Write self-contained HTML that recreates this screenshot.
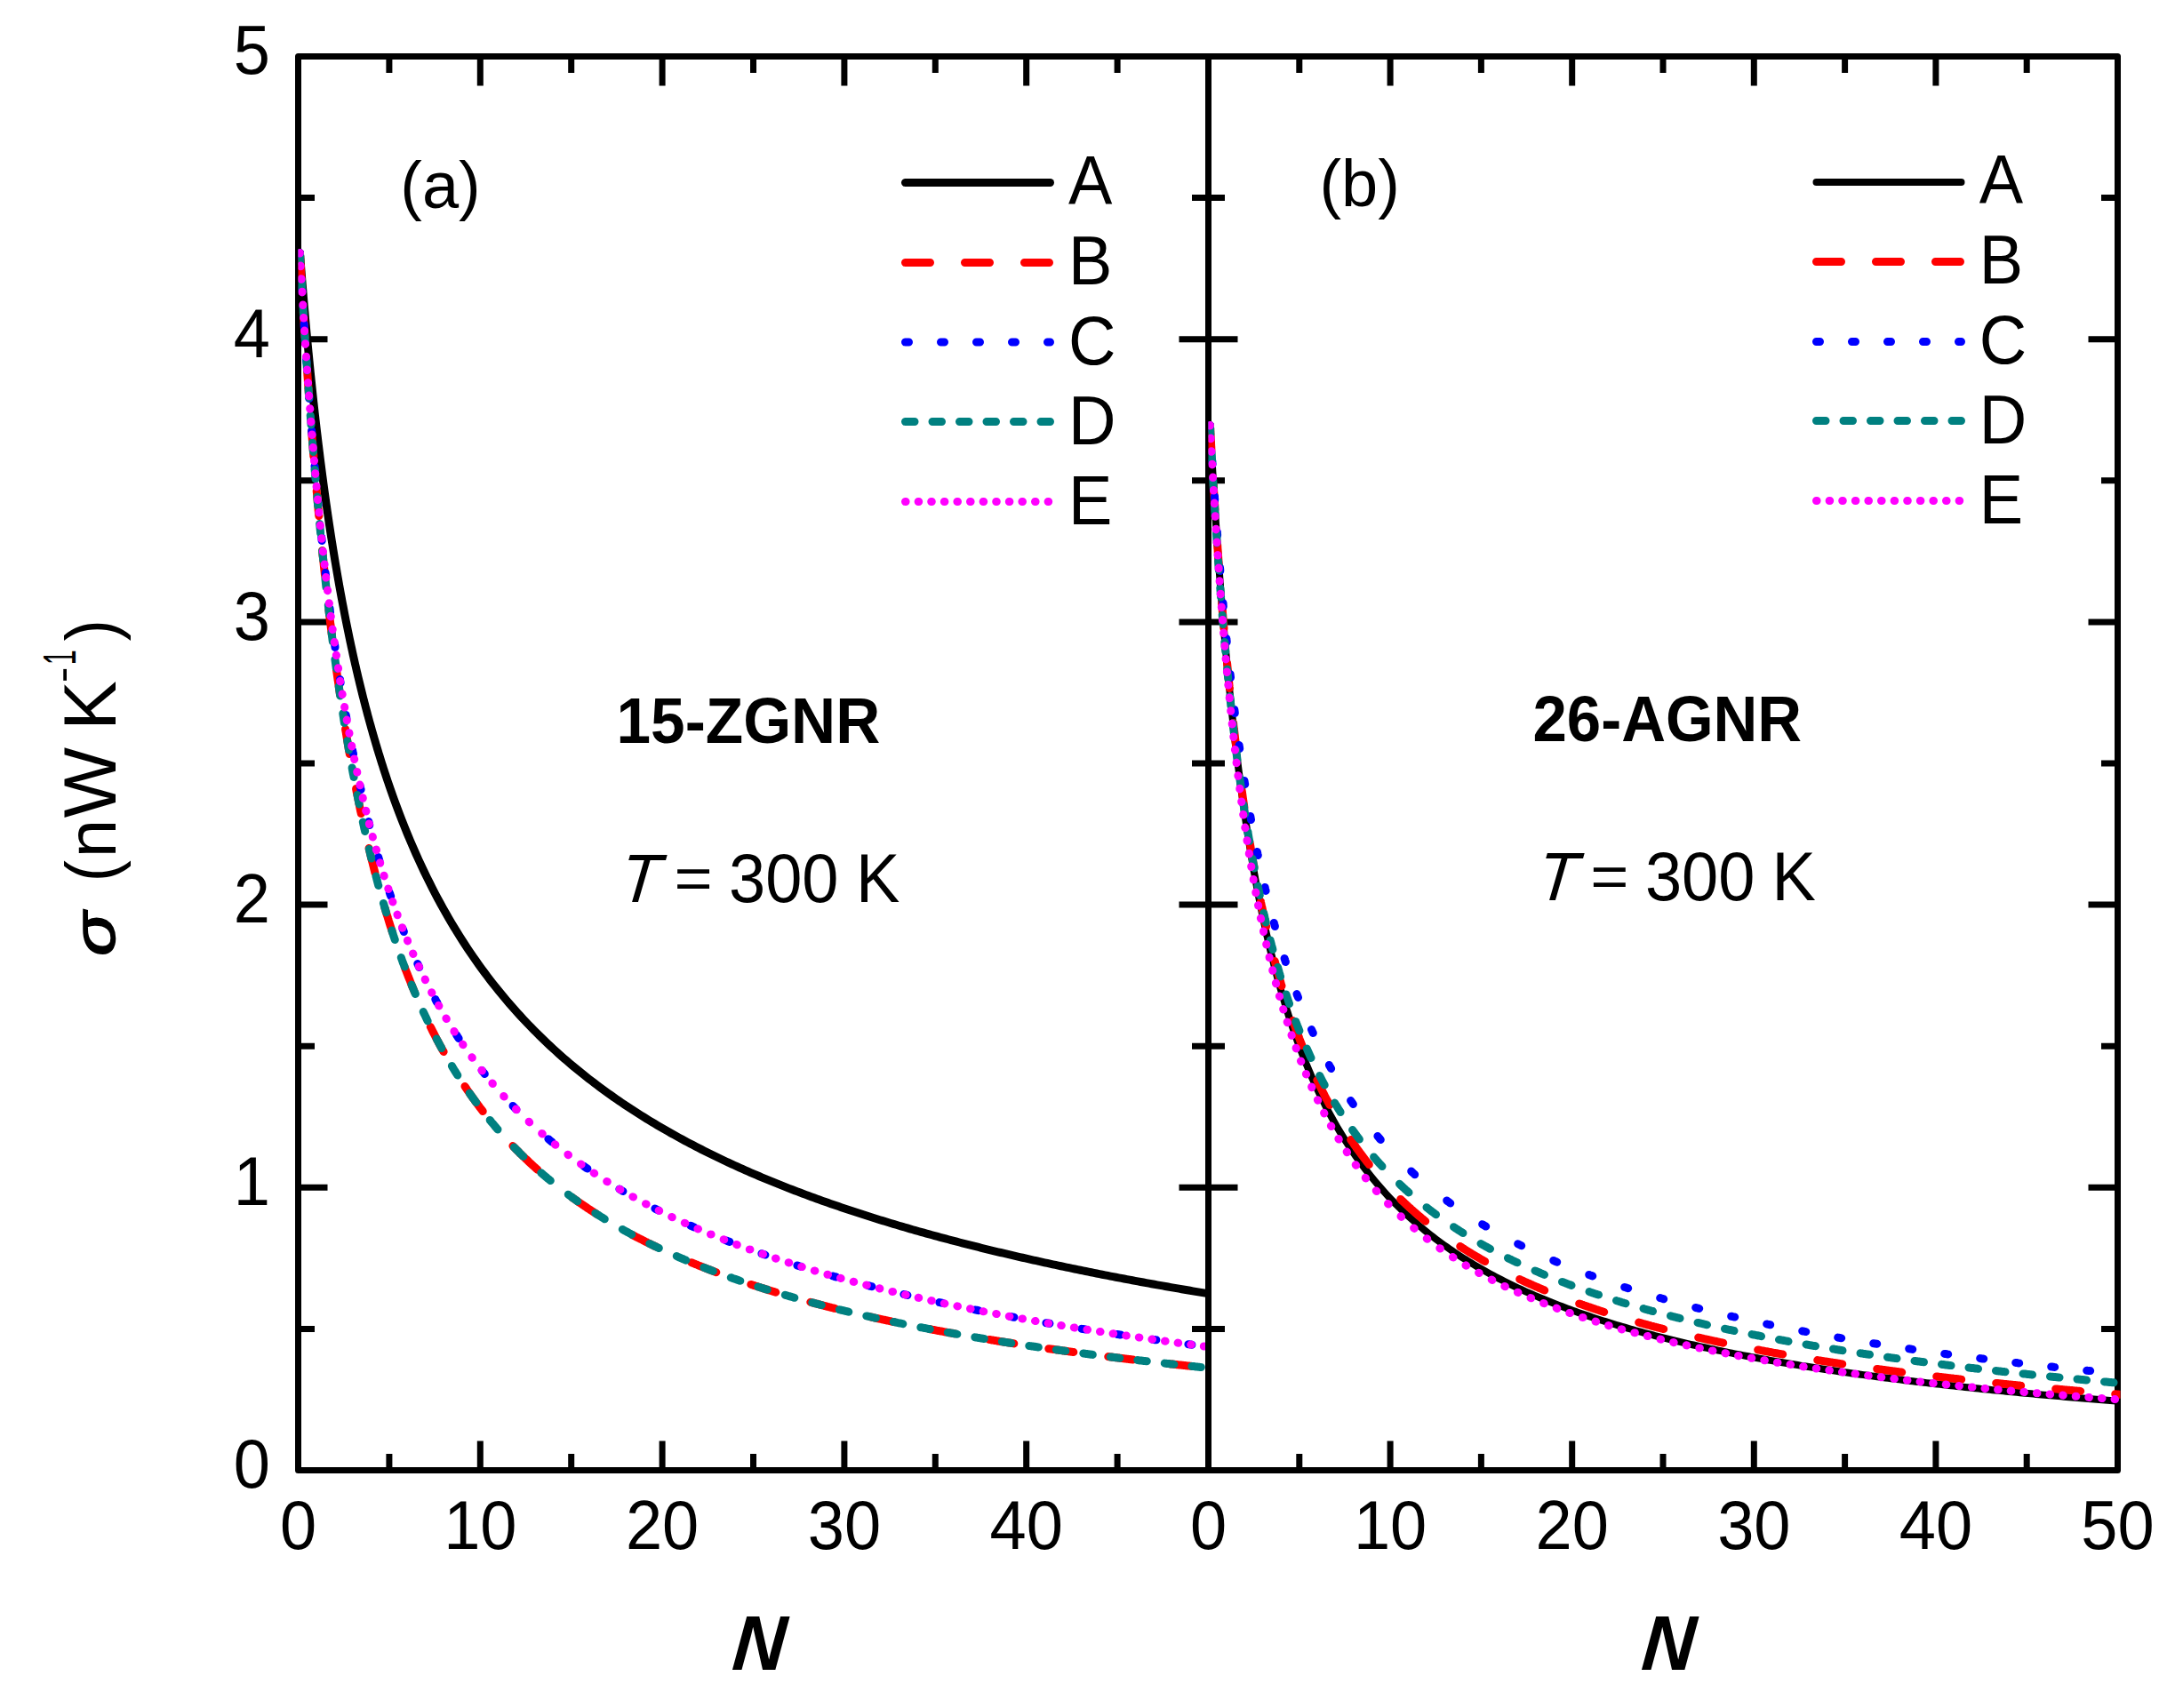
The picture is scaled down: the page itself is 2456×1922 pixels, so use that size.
<!DOCTYPE html>
<html><head><meta charset="utf-8"><title>sigma vs N</title>
<style>html,body{margin:0;padding:0;background:#fff;}svg{display:block;}</style>
</head><body>
<svg width="2456" height="1922" viewBox="0 0 2456 1922">
<rect width="2456" height="1922" fill="#fff"/>
<path d="M335.5,63.5H2382.5V1654.5H335.5Z" fill="none" stroke="#000" stroke-width="7" stroke-linejoin="round"/>
<path d="M335.5,1654.50h33.0 M2382.5,1654.50h-33.0 M335.5,1495.40h18.5 M2382.5,1495.40h-18.5 M335.5,1336.30h33.0 M2382.5,1336.30h-33.0 M335.5,1177.20h18.5 M2382.5,1177.20h-18.5 M335.5,1018.10h33.0 M2382.5,1018.10h-33.0 M335.5,859.00h18.5 M2382.5,859.00h-18.5 M335.5,699.90h33.0 M2382.5,699.90h-33.0 M335.5,540.80h18.5 M2382.5,540.80h-18.5 M335.5,381.70h33.0 M2382.5,381.70h-33.0 M335.5,222.60h18.5 M2382.5,222.60h-18.5 M335.5,63.50h33.0 M2382.5,63.50h-33.0 M335.50,1654.5v-33.0 M335.50,63.5v33.0 M437.90,1654.5v-18.5 M437.90,63.5v18.5 M540.30,1654.5v-33.0 M540.30,63.5v33.0 M642.70,1654.5v-18.5 M642.70,63.5v18.5 M745.10,1654.5v-33.0 M745.10,63.5v33.0 M847.50,1654.5v-18.5 M847.50,63.5v18.5 M949.90,1654.5v-33.0 M949.90,63.5v33.0 M1052.30,1654.5v-18.5 M1052.30,63.5v18.5 M1154.70,1654.5v-33.0 M1154.70,63.5v33.0 M1257.10,1654.5v-18.5 M1257.10,63.5v18.5 M1359.50,1654.5v-33.0 M1359.50,63.5v33.0 M1359.50,1654.5v-33.0 M1359.50,63.5v33.0 M1461.80,1654.5v-18.5 M1461.80,63.5v18.5 M1564.10,1654.5v-33.0 M1564.10,63.5v33.0 M1666.40,1654.5v-18.5 M1666.40,63.5v18.5 M1768.70,1654.5v-33.0 M1768.70,63.5v33.0 M1871.00,1654.5v-18.5 M1871.00,63.5v18.5 M1973.30,1654.5v-33.0 M1973.30,63.5v33.0 M2075.60,1654.5v-18.5 M2075.60,63.5v18.5 M2177.90,1654.5v-33.0 M2177.90,63.5v33.0 M2280.20,1654.5v-18.5 M2280.20,63.5v18.5 M2382.50,1654.5v-33.0 M2382.50,63.5v33.0" fill="none" stroke="#000" stroke-width="7" stroke-linecap="butt"/>
<defs><clipPath id="ca"><rect x="335.5" y="63.5" width="1024" height="1591"/></clipPath><clipPath id="cb"><rect x="1359.5" y="63.5" width="1026" height="1591"/></clipPath></defs>
<g clip-path="url(#ca)" fill="none" stroke-linecap="round" stroke-linejoin="round" stroke-width="9">
<path d="M337.40,284.50 L337.59,286.92 L337.78,289.32 L337.96,291.71 L338.15,294.09 L338.33,296.45 L338.52,298.81 L338.70,301.15 L338.89,303.49 L339.08,305.81 L339.26,308.12 L339.45,310.43 L339.63,312.72 L339.82,315.00 L340.01,317.27 L340.19,319.53 L340.38,321.78 L340.56,324.02 L340.75,326.25 L340.93,328.47 L341.12,330.68 L341.31,332.88 L341.49,335.07 L341.68,337.25 L341.86,339.42 L342.05,341.58 L342.23,343.73 L342.42,345.88 L342.61,348.01 L342.79,350.13 L342.98,352.25 L343.16,354.35 L343.35,356.45 L343.53,358.53 L343.72,360.61 L343.91,362.68 L344.09,364.74 L344.28,366.79 L344.46,368.84 L344.65,370.87 L344.83,372.90 L345.02,374.91 L345.21,376.92 L345.39,378.92 L345.58,380.91 L345.76,382.90 L345.95,384.87 L346.14,386.84 L346.32,388.80 L346.51,390.75 L346.69,392.69 L346.88,394.63 L347.06,396.55 L347.25,398.47 L347.44,400.38 L347.62,402.29 L347.81,404.18 L347.99,406.07 L348.18,407.95 L348.36,409.82 L348.55,411.69 L348.74,413.55 L348.92,415.40 L349.11,417.24 L349.29,419.08 L349.48,420.91 L349.66,422.73 L349.85,424.54 L350.04,426.35 L350.22,428.15 L350.41,429.94 L350.59,431.73 L350.78,433.51 L350.96,435.28 L351.15,437.05 L351.34,438.81 L351.52,440.56 L351.71,442.30 L351.89,444.04 L352.08,445.77 L352.26,447.50 L352.45,449.22 L352.64,450.93 L352.82,452.64 L353.01,454.34 L353.19,456.03 L353.38,457.72 L353.57,459.40 L353.75,461.07 L353.94,462.74 L354.12,464.40 L354.31,466.06 L354.49,467.71 L354.68,469.35 L354.87,470.99 L355.05,472.62 L355.24,474.25 L355.42,475.87 L355.61,477.48 L355.79,479.09 L355.98,480.69 L356.59,485.95 L357.21,491.15 L357.82,496.28 L358.44,501.36 L359.05,506.38 L359.67,511.34 L360.28,516.24 L360.90,521.09 L361.51,525.88 L362.12,530.63 L362.74,535.32 L363.35,539.95 L363.97,544.54 L364.58,549.08 L365.20,553.57 L365.81,558.01 L366.42,562.41 L367.04,566.76 L367.65,571.06 L368.27,575.32 L368.88,579.54 L369.50,583.71 L370.11,587.84 L370.73,591.93 L371.34,595.98 L371.95,599.99 L372.57,603.96 L373.18,607.89 L373.80,611.78 L374.41,615.64 L375.03,619.46 L375.64,623.24 L376.26,626.98 L376.87,630.69 L377.48,634.37 L378.10,638.01 L378.71,641.62 L379.33,645.19 L379.94,648.74 L380.56,652.25 L381.17,655.72 L381.78,659.17 L382.40,662.59 L383.01,665.97 L383.63,669.33 L384.24,672.66 L384.86,675.96 L385.47,679.23 L386.09,682.47 L386.70,685.68 L387.31,688.87 L387.93,692.03 L388.54,695.16 L389.16,698.27 L389.77,701.35 L390.39,704.40 L391.00,707.43 L391.62,710.44 L392.23,713.42 L392.84,716.38 L393.46,719.31 L394.07,722.22 L394.69,725.11 L395.30,727.97 L395.92,730.81 L396.53,733.63 L397.14,736.43 L397.76,739.20 L398.37,741.96 L398.99,744.69 L399.60,747.40 L400.22,750.09 L400.83,752.76 L401.45,755.41 L402.06,758.04 L402.67,760.66 L403.29,763.25 L403.90,765.82 L404.52,768.37 L405.13,770.91 L405.75,773.43 L406.36,775.93 L406.98,778.41 L407.59,780.87 L408.20,783.31 L408.82,785.74 L409.43,788.15 L410.05,790.55 L410.66,792.92 L411.28,795.29 L411.89,797.63 L412.50,799.96 L413.12,802.27 L413.73,804.57 L414.35,806.85 L414.96,809.11 L415.58,811.36 L416.19,813.60 L416.81,815.82 L417.42,818.02 L418.03,820.21 L418.65,822.39 L419.26,824.55 L419.88,826.70 L420.49,828.83 L421.11,830.95 L421.72,833.06 L422.34,835.15 L422.95,837.23 L423.56,839.30 L424.18,841.35 L424.79,843.39 L425.41,845.42 L426.02,847.44 L426.64,849.44 L427.25,851.43 L427.86,853.40 L428.48,855.37 L429.09,857.32 L429.71,859.26 L430.32,861.19 L430.94,863.11 L431.55,865.02 L432.17,866.91 L432.78,868.79 L433.39,870.67 L434.01,872.53 L434.62,874.38 L435.24,876.22 L435.85,878.05 L436.47,879.86 L437.08,881.67 L437.70,883.47 L439.96,890.00 L443.05,898.69 L446.14,907.14 L449.23,915.36 L452.32,923.36 L455.40,931.15 L458.49,938.74 L461.58,946.14 L464.67,953.35 L467.76,960.38 L470.85,967.24 L473.94,973.94 L477.03,980.48 L480.12,986.88 L483.21,993.12 L486.30,999.23 L489.38,1005.20 L492.47,1011.04 L495.56,1016.76 L498.65,1022.35 L501.74,1027.83 L504.83,1033.20 L507.92,1038.46 L511.01,1043.61 L514.10,1048.66 L517.19,1053.61 L520.28,1058.47 L523.36,1063.24 L526.45,1067.91 L529.54,1072.50 L532.63,1077.01 L535.72,1081.43 L538.81,1085.78 L541.90,1090.05 L544.99,1094.24 L548.08,1098.36 L551.17,1102.41 L554.26,1106.40 L557.34,1110.31 L560.43,1114.17 L563.52,1117.96 L566.61,1121.69 L569.70,1125.35 L572.79,1128.97 L575.88,1132.52 L578.97,1136.02 L582.06,1139.47 L585.15,1142.86 L588.24,1146.21 L591.32,1149.50 L594.41,1152.74 L597.50,1155.94 L600.59,1159.09 L603.68,1162.20 L606.77,1165.27 L609.86,1168.29 L612.95,1171.26 L616.04,1174.20 L619.13,1177.10 L622.22,1179.96 L625.30,1182.78 L628.39,1185.56 L631.48,1188.31 L634.57,1191.02 L637.66,1193.69 L640.75,1196.33 L643.84,1198.94 L646.93,1201.51 L650.02,1204.06 L653.11,1206.57 L656.20,1209.05 L659.28,1211.50 L662.37,1213.92 L665.46,1216.31 L668.55,1218.67 L671.64,1221.01 L674.73,1223.32 L677.82,1225.60 L680.91,1227.85 L684.00,1230.08 L687.09,1232.28 L690.18,1234.46 L693.26,1236.62 L696.35,1238.75 L699.44,1240.85 L702.53,1242.94 L705.62,1245.00 L708.71,1247.04 L711.80,1249.06 L714.89,1251.05 L717.98,1253.03 L721.07,1254.98 L724.16,1256.91 L727.24,1258.83 L730.33,1260.72 L733.42,1262.60 L736.51,1264.45 L739.60,1266.29 L742.69,1268.11 L745.78,1269.91 L748.87,1271.69 L751.96,1273.46 L755.05,1275.21 L758.14,1276.94 L761.22,1278.65 L764.31,1280.35 L767.40,1282.03 L770.49,1283.70 L773.58,1285.35 L776.67,1286.99 L779.76,1288.61 L782.85,1290.21 L785.94,1291.80 L789.03,1293.38 L792.12,1294.94 L795.20,1296.49 L798.29,1298.03 L801.38,1299.55 L804.47,1301.05 L807.56,1302.55 L810.65,1304.03 L813.74,1305.50 L816.83,1306.95 L819.92,1308.40 L823.01,1309.83 L826.10,1311.25 L829.18,1312.65 L832.27,1314.05 L835.36,1315.43 L838.45,1316.80 L841.54,1318.17 L844.63,1319.52 L847.72,1320.85 L850.81,1322.18 L853.90,1323.50 L856.99,1324.81 L860.08,1326.10 L863.16,1327.39 L866.25,1328.66 L869.34,1329.93 L872.43,1331.19 L875.52,1332.43 L878.61,1333.67 L881.70,1334.90 L884.79,1336.11 L887.88,1337.32 L890.97,1338.52 L894.05,1339.71 L897.14,1340.89 L900.23,1342.07 L903.32,1343.23 L906.41,1344.38 L909.50,1345.53 L912.59,1346.67 L915.68,1347.80 L918.77,1348.92 L921.86,1350.04 L924.95,1351.14 L928.03,1352.24 L931.12,1353.33 L934.21,1354.41 L937.30,1355.49 L940.39,1356.55 L943.48,1357.61 L946.57,1358.67 L949.66,1359.71 L952.75,1360.75 L955.84,1361.78 L958.93,1362.81 L962.01,1363.82 L965.10,1364.83 L968.19,1365.84 L971.28,1366.83 L974.37,1367.82 L977.46,1368.81 L980.55,1369.78 L983.64,1370.75 L986.73,1371.72 L989.82,1372.68 L992.91,1373.63 L995.99,1374.57 L999.08,1375.51 L1002.17,1376.45 L1005.26,1377.38 L1008.35,1378.30 L1011.44,1379.21 L1014.53,1380.12 L1017.62,1381.03 L1020.71,1381.93 L1023.80,1382.82 L1026.89,1383.71 L1029.97,1384.59 L1033.06,1385.47 L1036.15,1386.34 L1039.24,1387.20 L1042.33,1388.07 L1045.42,1388.92 L1048.51,1389.77 L1051.60,1390.62 L1054.69,1391.46 L1057.78,1392.29 L1060.87,1393.12 L1063.95,1393.95 L1067.04,1394.77 L1070.13,1395.59 L1073.22,1396.40 L1076.31,1397.20 L1079.40,1398.01 L1082.49,1398.80 L1085.58,1399.60 L1088.67,1400.38 L1091.76,1401.17 L1094.85,1401.95 L1097.93,1402.72 L1101.02,1403.49 L1104.11,1404.26 L1107.20,1405.02 L1110.29,1405.78 L1113.38,1406.53 L1116.47,1407.28 L1119.56,1408.02 L1122.65,1408.77 L1125.74,1409.50 L1128.83,1410.24 L1131.91,1410.96 L1135.00,1411.69 L1138.09,1412.41 L1141.18,1413.13 L1144.27,1413.84 L1147.36,1414.55 L1150.45,1415.26 L1153.54,1415.96 L1156.63,1416.66 L1159.72,1417.35 L1162.81,1418.04 L1165.89,1418.73 L1168.98,1419.41 L1172.07,1420.09 L1175.16,1420.77 L1178.25,1421.44 L1181.34,1422.11 L1184.43,1422.78 L1187.52,1423.44 L1190.61,1424.10 L1193.70,1424.76 L1196.79,1425.41 L1199.87,1426.06 L1202.96,1426.71 L1206.05,1427.35 L1209.14,1427.99 L1212.23,1428.63 L1215.32,1429.26 L1218.41,1429.89 L1221.50,1430.52 L1224.59,1431.15 L1227.68,1431.77 L1230.77,1432.39 L1233.85,1433.00 L1236.94,1433.61 L1240.03,1434.22 L1243.12,1434.83 L1246.21,1435.43 L1249.30,1436.04 L1252.39,1436.63 L1255.48,1437.23 L1258.57,1437.82 L1261.66,1438.41 L1264.75,1439.00 L1267.83,1439.58 L1270.92,1440.16 L1274.01,1440.74 L1277.10,1441.32 L1280.19,1441.89 L1283.28,1442.46 L1286.37,1443.03 L1289.46,1443.59 L1292.55,1444.16 L1295.64,1444.72 L1298.73,1445.27 L1301.81,1445.83 L1304.90,1446.38 L1307.99,1446.93 L1311.08,1447.48 L1314.17,1448.03 L1317.26,1448.57 L1320.35,1449.11 L1323.44,1449.65 L1326.53,1450.18 L1329.62,1450.72 L1332.71,1451.25 L1335.79,1451.78 L1338.88,1452.30 L1341.97,1452.83 L1345.06,1453.35 L1348.15,1453.87 L1351.24,1454.38 L1354.33,1454.90 L1357.42,1455.41 L1360.51,1455.92 L1363.60,1456.43" stroke="#000000"/>
<path d="M337.4,284.5 L337.5,285.6 L337.5,286.7 L337.6,287.9 L337.7,289.0 L337.7,290.1 L337.8,291.2 L337.8,292.3 L337.9,293.4 L338.0,294.5 L338.0,295.6 L338.1,296.7 L338.1,297.8 L338.2,298.9 L338.3,300.0 L338.3,301.1 L338.4,302.2 L338.5,303.3 L338.5,304.4 L338.6,305.5 L338.6,306.5 L338.7,307.6 L338.8,308.7 L338.8,309.8 L338.9,310.9 L339.0,311.9 L339.0,312.5 M341.3,351.5 L341.4,352.4 L341.4,353.4 L341.5,354.4 L341.6,355.4 L341.6,356.4 L341.7,357.4 L341.7,358.4 L341.8,359.4 L341.9,360.4 L341.9,361.4 L342.0,362.3 L342.0,363.3 L342.1,364.3 L342.2,365.3 L342.2,366.3 L342.3,367.3 L342.4,368.2 L342.4,369.2 L342.5,370.2 L342.5,371.2 L342.6,372.1 L342.7,373.1 L342.7,374.1 L342.8,375.0 L342.9,376.0 L342.9,377.0 L343.0,377.9 L343.0,378.9 L343.1,379.5 M345.7,418.5 L345.7,418.7 L345.8,419.6 L345.8,420.5 L345.9,421.4 L345.9,422.3 L346.0,423.2 L346.1,424.1 L346.1,424.9 L346.2,425.8 L346.3,426.7 L346.3,427.6 L346.4,428.5 L346.4,429.4 L346.5,430.2 L346.6,431.1 L346.6,432.0 L346.7,432.9 L346.8,433.7 L346.8,434.6 L346.9,435.5 L346.9,436.3 L347.0,437.2 L347.1,438.1 L347.1,438.9 L347.2,439.8 L347.2,440.6 L347.3,441.5 L347.4,442.4 L347.4,443.2 L347.5,444.1 L347.6,444.9 L347.6,445.8 L347.7,446.5 M350.6,485.5 L350.7,486.0 L350.7,486.8 L350.8,487.6 L350.8,488.4 L350.9,489.2 L351.0,490.0 L351.0,490.8 L351.1,491.5 L351.2,492.3 L351.2,493.1 L351.3,493.9 L351.3,494.7 L351.4,495.4 L351.5,496.2 L351.5,497.0 L351.6,497.8 L351.6,498.5 L351.7,499.3 L351.8,500.1 L351.8,500.9 L351.9,501.6 L352.0,502.4 L352.0,503.2 L352.1,503.9 L352.1,504.7 L352.2,505.4 L352.3,506.2 L352.3,507.0 L352.4,507.7 L352.5,508.5 L352.5,509.2 L352.6,510.0 L352.6,510.8 L352.7,511.5 L352.8,512.3 L352.8,513.0 L352.9,513.5 M356.2,552.5 L356.4,554.6 L356.6,556.9 L356.8,559.2 L357.0,561.4 L357.2,563.7 L357.4,565.9 L357.6,568.2 L357.8,570.4 L358.0,572.6 L358.2,574.8 L358.4,577.0 L358.6,579.2 L358.8,580.5 M362.6,619.5 L362.7,621.0 L362.9,623.0 L363.1,625.0 L363.4,627.0 L363.6,628.9 L363.8,630.9 L364.0,632.9 L364.2,634.8 L364.4,636.7 L364.6,638.7 L364.8,640.6 L365.0,642.5 L365.2,644.4 L365.4,646.3 L365.5,647.5 M369.9,686.5 L370.1,687.9 L370.3,689.7 L370.5,691.4 L370.7,693.1 L370.9,694.8 L371.1,696.5 L371.3,698.2 L371.5,699.9 L371.7,701.6 L372.0,703.2 L372.2,704.9 L372.4,706.6 L372.6,708.2 L372.8,709.9 L373.0,711.5 L373.2,713.1 L373.4,714.5 M378.5,753.5 L378.5,753.6 L378.7,755.1 L378.9,756.5 L379.1,758.0 L379.3,759.5 L379.5,760.9 L379.7,762.4 L379.9,763.8 L380.1,765.3 L380.4,766.7 L380.6,768.2 L380.8,769.6 L381.0,771.0 L381.2,772.4 L381.4,773.8 L381.6,775.2 L381.8,776.6 L382.0,778.0 L382.2,779.4 L382.4,780.8 L382.5,781.5 M388.6,820.5 L388.7,821.6 L389.0,822.9 L389.2,824.1 L389.4,825.4 L389.6,826.6 L389.8,827.8 L390.0,829.1 L390.2,830.3 L390.4,831.5 L390.6,832.7 L390.8,833.9 L391.0,835.1 L391.2,836.4 L391.4,837.6 L391.6,838.8 L391.8,839.9 L392.0,841.1 L392.2,842.3 L392.4,843.5 L392.6,844.7 L392.8,845.9 L393.0,847.0 L393.3,848.2 L393.3,848.5 M400.6,887.5 L400.6,887.9 L400.8,888.9 L401.0,890.0 L401.2,891.0 L401.4,892.0 L401.7,893.1 L401.9,894.1 L402.1,895.1 L402.3,896.1 L402.5,897.2 L402.7,898.2 L402.9,899.2 L403.1,900.2 L403.3,901.2 L403.5,902.2 L403.7,903.2 L403.9,904.2 L404.1,905.2 L404.3,906.2 L404.5,907.2 L404.7,908.2 L404.9,909.1 L405.1,910.1 L405.3,911.1 L405.5,912.1 L405.7,913.1 L406.0,914.0 L406.2,915.0 L406.3,915.5 M415.1,954.5 L415.2,955.0 L415.4,955.8 L415.6,956.7 L415.8,957.5 L416.0,958.4 L416.2,959.2 L416.4,960.1 L416.6,960.9 L416.8,961.8 L417.0,962.6 L417.2,963.4 L417.4,964.3 L417.6,965.1 L417.8,965.9 L418.0,966.8 L418.2,967.6 L418.4,968.4 L418.6,969.2 L418.9,970.0 L419.1,970.9 L419.3,971.7 L419.5,972.5 L419.7,973.3 L419.9,974.1 L420.1,974.9 L420.3,975.7 L420.5,976.5 L420.7,977.3 L420.9,978.1 L421.1,978.9 L421.3,979.7 L421.5,980.5 L421.7,981.3 L421.9,982.1 L422.0,982.5 M432.9,1021.5 L433.0,1021.8 L433.2,1022.5 L433.4,1023.2 L433.6,1023.8 L433.8,1024.5 L434.0,1025.2 L434.2,1025.9 L434.4,1026.6 L434.6,1027.3 L434.8,1027.9 L435.0,1028.6 L435.2,1029.3 L435.4,1029.9 L435.6,1030.6 L435.9,1031.3 L436.1,1031.9 L436.3,1032.6 L436.5,1033.3 L436.7,1033.9 L436.9,1034.6 L437.1,1035.3 L437.3,1035.9 L437.5,1036.6 L437.7,1037.2 L437.9,1037.9 L438.9,1041.1 L440.0,1044.4 L441.0,1047.5 L441.6,1049.5 M455.3,1088.5 L455.4,1088.7 L456.4,1091.4 L457.5,1094.1 L458.5,1096.7 L459.5,1099.3 L460.6,1101.9 L461.6,1104.5 L462.6,1107.1 L463.6,1109.6 L464.7,1112.1 L465.7,1114.6 L466.5,1116.5 M484.3,1155.5 L485.3,1157.4 L486.3,1159.5 L487.3,1161.5 L488.4,1163.5 L489.4,1165.5 L490.4,1167.5 L491.4,1169.5 L492.5,1171.4 L493.5,1173.3 L494.5,1175.3 L495.6,1177.2 L496.6,1179.0 L497.6,1180.9 L498.7,1182.8 L499.1,1183.5 M523.0,1222.5 L523.4,1223.0 L524.4,1224.6 L525.4,1226.1 L526.5,1227.6 L527.5,1229.0 L528.5,1230.5 L529.5,1232.0 L530.6,1233.4 L531.6,1234.9 L532.6,1236.3 L533.7,1237.7 L534.7,1239.2 L535.7,1240.6 L536.8,1241.9 L537.8,1243.3 L538.8,1244.7 L539.8,1246.1 L540.9,1247.4 L541.9,1248.8 L542.9,1250.1 L543.2,1250.5 M576.9,1289.5 L577.9,1290.6 L579.0,1291.6 L580.0,1292.7 L581.0,1293.7 L582.1,1294.8 L583.1,1295.8 L584.1,1296.8 L585.1,1297.9 L586.2,1298.9 L587.2,1299.9 L588.2,1300.9 L589.3,1301.9 L590.3,1302.9 L591.3,1303.9 L592.4,1304.8 L593.4,1305.8 L594.4,1306.8 L595.4,1307.8 L596.5,1308.7 L597.5,1309.7 L598.5,1310.6 L599.6,1311.6 L600.6,1312.5 L601.6,1313.4 L602.7,1314.4 L603.7,1315.3 L604.7,1316.2 L604.8,1316.3 M643.8,1347.5 L643.8,1347.5 L644.9,1348.3 L645.9,1349.0 L646.9,1349.8 L648.0,1350.5 L649.0,1351.2 L650.0,1351.9 L651.0,1352.7 L652.1,1353.4 L653.1,1354.1 L654.1,1354.8 L655.2,1355.5 L656.2,1356.2 L657.2,1356.9 L658.3,1357.6 L659.3,1358.3 L660.3,1359.0 L661.3,1359.7 L662.4,1360.4 L663.4,1361.0 L664.4,1361.7 L665.5,1362.4 L666.5,1363.1 L667.5,1363.7 L668.6,1364.4 L669.6,1365.1 L670.6,1365.7 L671.6,1366.4 L671.8,1366.5 M710.8,1389.2 L711.8,1389.7 L712.8,1390.3 L713.9,1390.8 L714.9,1391.4 L715.9,1391.9 L716.9,1392.4 L718.0,1393.0 L719.0,1393.5 L720.0,1394.0 L721.1,1394.6 L722.1,1395.1 L723.1,1395.6 L724.2,1396.1 L725.2,1396.7 L726.2,1397.2 L727.2,1397.7 L728.3,1398.2 L729.3,1398.7 L730.3,1399.2 L731.4,1399.7 L732.4,1400.2 L733.4,1400.7 L734.5,1401.3 L735.5,1401.8 L736.5,1402.2 L737.5,1402.7 L738.6,1403.2 L738.8,1403.3 M777.8,1420.7 L778.7,1421.1 L779.8,1421.5 L780.8,1421.9 L781.8,1422.3 L782.8,1422.7 L783.9,1423.1 L784.9,1423.6 L785.9,1424.0 L787.0,1424.4 L788.0,1424.8 L789.0,1425.2 L790.1,1425.6 L791.1,1426.0 L792.1,1426.4 L793.1,1426.8 L794.2,1427.2 L795.2,1427.6 L796.2,1428.0 L797.3,1428.4 L798.3,1428.8 L799.3,1429.2 L800.4,1429.6 L801.4,1430.0 L802.4,1430.4 L803.4,1430.8 L804.5,1431.2 L805.5,1431.6 L805.8,1431.7 M844.8,1445.4 L845.7,1445.6 L846.7,1446.0 L847.7,1446.3 L848.7,1446.7 L849.8,1447.0 L850.8,1447.3 L851.8,1447.6 L852.9,1448.0 L853.9,1448.3 L854.9,1448.6 L856.0,1449.0 L857.0,1449.3 L858.0,1449.6 L859.0,1449.9 L860.1,1450.3 L861.1,1450.6 L862.1,1450.9 L863.2,1451.2 L864.2,1451.6 L865.2,1451.9 L866.3,1452.2 L867.3,1452.5 L868.3,1452.8 L869.3,1453.1 L870.4,1453.4 L871.4,1453.8 L872.4,1454.1 L872.8,1454.2 M911.8,1465.3 L912.6,1465.5 L913.6,1465.8 L914.6,1466.1 L915.7,1466.3 L916.7,1466.6 L917.7,1466.9 L918.8,1467.1 L919.8,1467.4 L920.8,1467.7 L921.9,1468.0 L922.9,1468.2 L923.9,1468.5 L924.9,1468.8 L926.0,1469.0 L927.0,1469.3 L928.0,1469.6 L929.1,1469.8 L930.1,1470.1 L931.1,1470.4 L932.2,1470.6 L933.2,1470.9 L934.2,1471.1 L935.2,1471.4 L936.3,1471.7 L937.3,1471.9 L938.3,1472.2 L939.4,1472.4 L939.8,1472.5 M978.8,1481.8 L979.5,1481.9 L980.5,1482.1 L981.6,1482.4 L982.6,1482.6 L983.6,1482.8 L984.7,1483.1 L985.7,1483.3 L986.7,1483.5 L987.8,1483.7 L988.8,1484.0 L989.8,1484.2 L990.8,1484.4 L991.9,1484.6 L992.9,1484.9 L993.9,1485.1 L995.0,1485.3 L996.0,1485.5 L997.0,1485.8 L998.1,1486.0 L999.1,1486.2 L1000.1,1486.4 L1001.1,1486.6 L1002.2,1486.8 L1003.2,1487.1 L1004.2,1487.3 L1005.3,1487.5 L1006.3,1487.7 L1006.8,1487.8 M1045.8,1495.6 L1046.4,1495.7 L1047.5,1495.9 L1048.5,1496.1 L1049.5,1496.3 L1050.6,1496.5 L1051.6,1496.7 L1052.6,1496.9 L1053.7,1497.1 L1054.7,1497.3 L1055.7,1497.5 L1056.7,1497.7 L1057.8,1497.9 L1058.8,1498.0 L1059.8,1498.2 L1060.9,1498.4 L1061.9,1498.6 L1062.9,1498.8 L1064.0,1499.0 L1065.0,1499.2 L1066.0,1499.4 L1067.0,1499.5 L1068.1,1499.7 L1069.1,1499.9 L1070.1,1500.1 L1071.2,1500.3 L1072.2,1500.5 L1073.2,1500.7 L1073.8,1500.8 M1112.8,1507.4 L1113.4,1507.5 L1114.4,1507.7 L1115.4,1507.9 L1116.5,1508.0 L1117.5,1508.2 L1118.5,1508.4 L1119.6,1508.5 L1120.6,1508.7 L1121.6,1508.9 L1122.6,1509.0 L1123.7,1509.2 L1124.7,1509.4 L1125.7,1509.5 L1126.8,1509.7 L1127.8,1509.8 L1128.8,1510.0 L1129.9,1510.2 L1130.9,1510.3 L1131.9,1510.5 L1132.9,1510.7 L1134.0,1510.8 L1135.0,1511.0 L1136.0,1511.1 L1137.1,1511.3 L1138.1,1511.5 L1139.1,1511.6 L1140.2,1511.8 L1140.8,1511.9 M1179.8,1517.7 L1180.3,1517.7 L1181.3,1517.9 L1182.4,1518.0 L1183.4,1518.2 L1184.4,1518.3 L1185.5,1518.5 L1186.5,1518.6 L1187.5,1518.7 L1188.5,1518.9 L1189.6,1519.0 L1190.6,1519.2 L1191.6,1519.3 L1192.7,1519.5 L1193.7,1519.6 L1194.7,1519.7 L1195.8,1519.9 L1196.8,1520.0 L1197.8,1520.2 L1198.8,1520.3 L1199.9,1520.5 L1200.9,1520.6 L1201.9,1520.7 L1203.0,1520.9 L1204.0,1521.0 L1205.0,1521.2 L1206.1,1521.3 L1207.1,1521.4 L1207.8,1521.5 M1246.8,1526.6 L1247.2,1526.7 L1248.3,1526.8 L1249.3,1526.9 L1250.3,1527.0 L1251.4,1527.2 L1252.4,1527.3 L1253.4,1527.4 L1254.4,1527.5 L1255.5,1527.7 L1256.5,1527.8 L1257.5,1527.9 L1258.6,1528.1 L1259.6,1528.2 L1260.6,1528.3 L1261.7,1528.4 L1262.7,1528.6 L1263.7,1528.7 L1264.7,1528.8 L1265.8,1528.9 L1266.8,1529.1 L1267.8,1529.2 L1268.9,1529.3 L1269.9,1529.4 L1270.9,1529.5 L1272.0,1529.7 L1273.0,1529.8 L1274.0,1529.9 L1274.8,1530.0 M1313.8,1534.5 L1314.2,1534.5 L1315.2,1534.6 L1316.2,1534.8 L1317.3,1534.9 L1318.3,1535.0 L1319.3,1535.1 L1320.3,1535.2 L1321.4,1535.3 L1322.4,1535.4 L1323.4,1535.5 L1324.5,1535.7 L1325.5,1535.8 L1326.5,1535.9 L1327.6,1536.0 L1328.6,1536.1 L1329.6,1536.2 L1330.6,1536.3 L1331.7,1536.4 L1332.7,1536.5 L1333.7,1536.7 L1334.8,1536.8 L1335.8,1536.9 L1336.8,1537.0 L1337.9,1537.1 L1338.9,1537.2 L1339.9,1537.3 L1340.9,1537.4 L1341.8,1537.5" stroke="#FF0000"/>
<path d="M337.4,284.5 L337.5,285.6 L337.5,286.8 L337.6,287.9 L337.6,288.5 M339.7,324.5 L339.7,325.2 L339.8,326.2 L339.8,327.3 L339.9,328.3 L339.9,328.5 M342.1,364.5 L342.1,364.9 L342.2,365.9 L342.2,366.8 L342.3,367.8 L342.3,368.5 M344.7,404.5 L344.8,405.4 L344.8,406.3 L344.9,407.2 L345.0,408.1 L345.0,408.5 M347.6,444.5 L347.6,445.3 L347.7,446.2 L347.7,447.0 L347.8,447.8 L347.9,448.5 M350.7,484.5 L350.7,484.5 L350.7,485.3 L350.8,486.1 L350.8,486.8 L350.9,487.6 L351.0,488.4 L351.0,488.5 M354.0,524.5 L354.1,524.9 L354.1,525.7 L354.2,526.4 L354.2,527.1 L354.3,527.8 L354.4,528.5 L354.4,528.5 M357.7,564.5 L357.8,565.8 L358.0,567.9 L358.1,568.5 M361.7,604.5 L361.9,606.3 L362.1,608.2 L362.2,608.5 M366.2,644.5 L366.2,645.0 L366.4,646.8 L366.6,648.5 M371.0,684.5 L371.1,685.2 L371.3,686.8 L371.5,688.4 L371.6,688.5 M376.5,724.5 L376.5,724.6 L376.7,726.0 L376.9,727.4 L377.0,728.5 M382.5,764.5 L382.6,765.4 L382.8,766.7 L383.0,768.0 L383.1,768.5 M389.2,804.5 L389.4,805.6 L389.6,806.7 L389.8,807.9 L389.9,808.5 M396.7,844.5 L396.7,844.7 L396.9,845.8 L397.1,846.8 L397.3,847.8 L397.5,848.5 M405.2,884.5 L405.3,885.3 L405.5,886.2 L405.7,887.1 L406.0,888.0 L406.1,888.5 M414.8,924.5 L415.0,925.2 L415.2,926.0 L415.4,926.8 L415.6,927.6 L415.8,928.4 L415.8,928.5 M425.7,964.5 L425.8,964.8 L426.0,965.5 L426.2,966.2 L426.4,966.9 L426.6,967.6 L426.8,968.3 L426.9,968.5 M438.3,1004.5 L438.9,1006.4 L439.7,1008.5 M452.8,1044.5 L453.3,1045.8 L454.4,1048.4 L454.4,1048.5 M469.8,1084.5 L469.8,1084.5 L470.9,1086.8 L471.7,1088.5 M489.8,1124.5 L490.4,1125.7 L491.4,1127.6 L492.0,1128.5 M513.5,1164.5 L514.1,1165.4 L515.1,1167.0 L516.1,1168.5 M542.1,1204.5 L542.9,1205.5 L544.0,1206.8 L545.0,1208.1 L545.3,1208.5 M577.0,1244.5 L577.9,1245.4 L579.0,1246.5 L580.0,1247.6 L580.9,1248.5 M616.9,1281.7 L617.1,1281.8 L618.1,1282.7 L619.1,1283.5 L620.2,1284.4 L620.9,1285.0 M656.9,1312.3 L657.2,1312.5 L658.3,1313.3 L659.3,1314.0 L660.3,1314.7 L660.9,1315.1 M696.9,1338.1 L697.4,1338.3 L698.4,1339.0 L699.4,1339.6 L700.5,1340.2 L700.9,1340.4 M736.9,1360.1 L737.5,1360.4 L738.6,1360.9 L739.6,1361.4 L740.6,1362.0 L740.9,1362.1 M776.9,1379.2 L777.7,1379.5 L778.7,1380.0 L779.8,1380.4 L780.8,1380.9 L780.9,1380.9 M816.9,1395.9 L817.9,1396.3 L818.9,1396.7 L819.9,1397.1 L820.9,1397.4 M856.9,1410.7 L857.0,1410.7 L858.0,1411.1 L859.0,1411.5 L860.1,1411.8 L860.9,1412.1 M896.9,1424.0 L897.1,1424.0 L898.2,1424.4 L899.2,1424.7 L900.2,1425.0 L900.9,1425.2 M936.9,1435.9 L937.3,1436.0 L938.3,1436.3 L939.4,1436.6 L940.4,1436.9 L940.9,1437.0 M976.9,1446.7 L977.5,1446.8 L978.5,1447.1 L979.5,1447.4 L980.5,1447.6 L980.9,1447.7 M1016.9,1456.5 L1017.6,1456.7 L1018.6,1456.9 L1019.7,1457.2 L1020.7,1457.4 L1020.9,1457.5 M1056.9,1465.6 L1057.8,1465.7 L1058.8,1466.0 L1059.8,1466.2 L1060.9,1466.4 L1060.9,1466.4 M1096.9,1473.9 L1097.9,1474.1 L1099.0,1474.3 L1100.0,1474.5 L1100.9,1474.7 M1136.9,1481.5 L1137.1,1481.6 L1138.1,1481.8 L1139.1,1481.9 L1140.2,1482.1 L1140.9,1482.3 M1176.9,1488.7 L1177.2,1488.7 L1178.3,1488.9 L1179.3,1489.1 L1180.3,1489.2 L1180.9,1489.3 M1216.9,1495.3 L1217.4,1495.4 L1218.4,1495.5 L1219.4,1495.7 L1220.5,1495.8 L1220.9,1495.9 M1256.9,1501.5 L1257.5,1501.6 L1258.6,1501.7 L1259.6,1501.9 L1260.6,1502.0 L1260.9,1502.1 M1296.9,1507.3 L1297.7,1507.4 L1298.7,1507.5 L1299.8,1507.7 L1300.8,1507.8 L1300.9,1507.8 M1336.9,1512.7 L1337.9,1512.8 L1338.9,1512.9 L1339.9,1513.1 L1340.9,1513.2" stroke="#0000FF"/>
<path d="M337.4,284.5 L337.5,285.6 L337.5,286.7 L337.6,287.9 L337.7,289.0 L337.7,290.1 L337.8,291.2 L337.8,292.3 L337.9,293.4 L338.0,294.5 L338.0,295.0 M339.1,315.0 L339.1,315.1 L339.2,316.2 L339.3,317.3 L339.3,318.3 L339.4,319.4 L339.4,320.5 L339.5,321.5 L339.6,322.6 L339.6,323.6 L339.7,324.7 L339.7,325.5 M340.9,345.5 L341.0,346.3 L341.1,347.4 L341.1,348.4 L341.2,349.4 L341.2,350.4 L341.3,351.4 L341.4,352.4 L341.4,353.4 L341.5,354.4 L341.6,355.4 L341.6,356.0 M342.9,376.0 L342.9,377.0 L343.0,377.9 L343.0,378.9 L343.1,379.8 L343.2,380.8 L343.2,381.8 L343.3,382.7 L343.3,383.7 L343.4,384.6 L343.5,385.6 L343.5,386.5 M344.9,406.5 L344.9,407.0 L345.0,407.9 L345.0,408.8 L345.1,409.7 L345.1,410.6 L345.2,411.5 L345.3,412.4 L345.3,413.3 L345.4,414.2 L345.5,415.1 L345.5,416.0 L345.6,416.9 L345.6,417.0 M347.0,437.0 L347.0,437.2 L347.1,438.1 L347.1,438.9 L347.2,439.8 L347.2,440.6 L347.3,441.5 L347.4,442.4 L347.4,443.2 L347.5,444.1 L347.6,444.9 L347.6,445.8 L347.7,446.6 L347.7,447.5 L347.7,447.5 M349.2,467.5 L349.2,467.5 L349.3,468.3 L349.4,469.1 L349.4,470.0 L349.5,470.8 L349.5,471.6 L349.6,472.4 L349.7,473.2 L349.7,474.0 L349.8,474.8 L349.9,475.6 L349.9,476.4 L350.0,477.2 L350.0,478.0 M351.6,498.0 L351.6,498.5 L351.7,499.3 L351.8,500.1 L351.8,500.9 L351.9,501.6 L352.0,502.4 L352.0,503.2 L352.1,503.9 L352.1,504.7 L352.2,505.4 L352.3,506.2 L352.3,507.0 L352.4,507.7 L352.5,508.5 L352.5,508.5 M354.1,528.5 L354.1,528.6 L354.2,529.3 L354.2,530.0 L354.3,530.8 L354.4,531.5 L354.4,532.2 L354.5,532.9 L354.6,533.7 L354.6,534.4 L354.7,535.1 L354.7,535.8 L354.8,536.5 L354.9,537.3 L354.9,538.0 L355.0,538.7 L355.0,539.0 M356.8,559.0 L356.8,559.2 L357.0,561.4 L357.2,563.7 L357.4,565.9 L357.6,568.2 L357.7,569.5 M359.6,589.5 L359.7,590.0 L359.9,592.1 L360.1,594.3 L360.3,596.4 L360.5,598.5 L360.6,600.0 M362.6,620.0 L362.7,621.0 L362.9,623.0 L363.1,625.0 L363.4,627.0 L363.6,628.9 L363.7,630.5 M365.9,650.5 L366.0,652.0 L366.2,653.8 L366.4,655.7 L366.6,657.6 L366.8,659.4 L367.0,661.0 M369.3,681.0 L369.5,682.7 L369.7,684.5 L369.9,686.2 L370.1,687.9 L370.3,689.7 L370.5,691.4 L370.5,691.5 M373.0,711.5 L373.0,711.5 L373.2,713.1 L373.4,714.8 L373.6,716.4 L373.8,718.0 L374.0,719.6 L374.2,721.2 L374.3,722.0 M376.9,742.0 L377.1,743.1 L377.3,744.6 L377.5,746.1 L377.7,747.6 L377.9,749.1 L378.1,750.6 L378.3,752.1 L378.4,752.5 M381.2,772.5 L381.4,773.8 L381.6,775.2 L381.8,776.6 L382.0,778.0 L382.2,779.4 L382.4,780.8 L382.6,782.2 L382.7,783.0 M385.8,803.0 L385.9,803.7 L386.1,805.0 L386.3,806.3 L386.5,807.6 L386.7,808.9 L386.9,810.2 L387.1,811.5 L387.3,812.8 L387.4,813.5 M390.7,833.5 L390.8,833.9 L391.0,835.1 L391.2,836.4 L391.4,837.6 L391.6,838.8 L391.8,839.9 L392.0,841.1 L392.2,842.3 L392.4,843.5 L392.5,844.0 M396.1,864.0 L396.1,864.1 L396.3,865.3 L396.5,866.4 L396.7,867.5 L396.9,868.6 L397.1,869.7 L397.3,870.8 L397.6,871.9 L397.8,873.0 L398.0,874.0 L398.1,874.5 M401.9,894.5 L402.1,895.1 L402.3,896.1 L402.5,897.2 L402.7,898.2 L402.9,899.2 L403.1,900.2 L403.3,901.2 L403.5,902.2 L403.7,903.2 L403.9,904.2 L404.1,905.0 M408.3,925.0 L408.4,925.4 L408.6,926.4 L408.8,927.3 L409.0,928.2 L409.2,929.2 L409.4,930.1 L409.6,931.0 L409.8,931.9 L410.0,932.9 L410.3,933.8 L410.5,934.7 L410.6,935.5 M415.3,955.5 L415.4,955.8 L415.6,956.7 L415.8,957.5 L416.0,958.4 L416.2,959.2 L416.4,960.1 L416.6,960.9 L416.8,961.8 L417.0,962.6 L417.2,963.4 L417.4,964.3 L417.6,965.1 L417.8,965.9 L417.8,966.0 M423.0,986.0 L423.2,986.7 L423.4,987.5 L423.6,988.3 L423.8,989.0 L424.0,989.8 L424.2,990.6 L424.4,991.3 L424.6,992.1 L424.8,992.9 L425.0,993.6 L425.2,994.4 L425.4,995.1 L425.6,995.9 L425.8,996.5 M431.4,1016.5 L431.6,1016.9 L431.8,1017.6 L432.0,1018.3 L432.2,1019.0 L432.4,1019.7 L432.6,1020.4 L432.8,1021.1 L433.0,1021.8 L433.2,1022.5 L433.4,1023.2 L433.6,1023.8 L433.8,1024.5 L434.0,1025.2 L434.2,1025.9 L434.4,1026.6 L434.5,1027.0 M440.8,1047.0 L441.0,1047.5 L442.0,1050.7 L443.0,1053.8 L444.1,1056.9 L444.3,1057.5 M451.3,1077.5 L451.3,1077.5 L452.3,1080.4 L453.3,1083.2 L454.4,1085.9 L455.2,1088.0 M463.0,1108.0 L463.6,1109.6 L464.7,1112.1 L465.7,1114.6 L466.7,1117.0 L467.4,1118.5 M476.2,1138.5 L477.0,1140.3 L478.1,1142.5 L479.1,1144.7 L480.1,1146.8 L481.1,1149.0 L481.2,1149.0 M491.2,1169.0 L491.4,1169.5 L492.5,1171.4 L493.5,1173.3 L494.5,1175.3 L495.6,1177.2 L496.6,1179.0 L496.8,1179.5 M508.4,1199.5 L508.9,1200.5 L510.0,1202.2 L511.0,1203.9 L512.0,1205.5 L513.1,1207.2 L514.1,1208.8 L514.8,1210.0 M528.2,1230.0 L528.5,1230.5 L529.5,1232.0 L530.6,1233.4 L531.6,1234.9 L532.6,1236.3 L533.7,1237.7 L534.7,1239.2 L535.7,1240.5 M551.2,1260.5 L552.2,1261.7 L553.2,1263.0 L554.3,1264.2 L555.3,1265.4 L556.3,1266.6 L557.3,1267.9 L558.4,1269.1 L559.4,1270.3 L560.0,1271.0 M578.4,1291.0 L579.0,1291.6 L580.0,1292.7 L581.0,1293.7 L582.1,1294.8 L583.1,1295.8 L584.1,1296.8 L585.1,1297.9 L586.2,1298.9 L587.2,1299.9 L588.2,1300.9 L588.8,1301.4 M608.8,1319.8 L608.8,1319.8 L609.9,1320.7 L610.9,1321.6 L611.9,1322.5 L612.9,1323.3 L614.0,1324.2 L615.0,1325.1 L616.0,1325.9 L617.1,1326.8 L618.1,1327.6 L619.1,1328.5 L619.3,1328.6 M639.3,1344.2 L639.7,1344.5 L640.7,1345.3 L641.8,1346.0 L642.8,1346.8 L643.8,1347.5 L644.9,1348.3 L645.9,1349.0 L646.9,1349.8 L648.0,1350.5 L649.0,1351.2 L649.8,1351.8 M669.8,1365.2 L670.6,1365.7 L671.6,1366.4 L672.7,1367.0 L673.7,1367.7 L674.7,1368.3 L675.8,1369.0 L676.8,1369.6 L677.8,1370.2 L678.8,1370.9 L679.9,1371.5 L680.3,1371.8 M700.3,1383.4 L700.5,1383.5 L701.5,1384.1 L702.5,1384.7 L703.6,1385.3 L704.6,1385.8 L705.6,1386.4 L706.7,1386.9 L707.7,1387.5 L708.7,1388.1 L709.7,1388.6 L710.8,1389.2 L710.8,1389.2 M730.8,1399.5 L731.4,1399.7 L732.4,1400.2 L733.4,1400.7 L734.5,1401.3 L735.5,1401.8 L736.5,1402.2 L737.5,1402.7 L738.6,1403.2 L739.6,1403.7 L740.6,1404.2 L741.3,1404.5 M761.3,1413.6 L762.3,1414.1 L763.3,1414.5 L764.3,1415.0 L765.3,1415.4 L766.4,1415.9 L767.4,1416.3 L768.4,1416.7 L769.5,1417.2 L770.5,1417.6 L771.5,1418.0 L771.8,1418.2 M791.8,1426.3 L792.1,1426.4 L793.1,1426.8 L794.2,1427.2 L795.2,1427.6 L796.2,1428.0 L797.3,1428.4 L798.3,1428.8 L799.3,1429.2 L800.4,1429.6 L801.4,1430.0 L802.3,1430.4 M822.3,1437.7 L823.0,1437.9 L824.0,1438.3 L825.1,1438.7 L826.1,1439.0 L827.1,1439.4 L828.2,1439.7 L829.2,1440.1 L830.2,1440.4 L831.2,1440.8 L832.3,1441.2 L832.8,1441.3 M852.8,1448.0 L852.9,1448.0 L853.9,1448.3 L854.9,1448.6 L856.0,1449.0 L857.0,1449.3 L858.0,1449.6 L859.0,1449.9 L860.1,1450.3 L861.1,1450.6 L862.1,1450.9 L863.2,1451.2 L863.3,1451.3 M883.3,1457.3 L883.8,1457.4 L884.8,1457.7 L885.8,1458.0 L886.8,1458.3 L887.9,1458.6 L888.9,1458.9 L889.9,1459.2 L891.0,1459.5 L892.0,1459.8 L893.0,1460.1 L893.8,1460.3 M913.8,1465.8 L914.6,1466.1 L915.7,1466.3 L916.7,1466.6 L917.7,1466.9 L918.8,1467.1 L919.8,1467.4 L920.8,1467.7 L921.9,1468.0 L922.9,1468.2 L923.9,1468.5 L924.3,1468.6 M944.3,1473.7 L944.5,1473.7 L945.5,1474.0 L946.6,1474.2 L947.6,1474.5 L948.6,1474.7 L949.7,1475.0 L950.7,1475.2 L951.7,1475.5 L952.7,1475.7 L953.8,1476.0 L954.8,1476.2 M974.8,1480.9 L975.4,1481.0 L976.4,1481.2 L977.5,1481.5 L978.5,1481.7 L979.5,1481.9 L980.5,1482.1 L981.6,1482.4 L982.6,1482.6 L983.6,1482.8 L984.7,1483.1 L985.3,1483.2 M1005.3,1487.5 L1006.3,1487.7 L1007.3,1487.9 L1008.4,1488.1 L1009.4,1488.4 L1010.4,1488.6 L1011.4,1488.8 L1012.5,1489.0 L1013.5,1489.2 L1014.5,1489.4 L1015.6,1489.6 L1015.8,1489.7 M1035.8,1493.7 L1036.2,1493.7 L1037.2,1493.9 L1038.2,1494.1 L1039.2,1494.3 L1040.3,1494.5 L1041.3,1494.7 L1042.3,1494.9 L1043.4,1495.1 L1044.4,1495.3 L1045.4,1495.5 L1046.3,1495.7 M1066.3,1499.4 L1067.0,1499.5 L1068.1,1499.7 L1069.1,1499.9 L1070.1,1500.1 L1071.2,1500.3 L1072.2,1500.5 L1073.2,1500.7 L1074.3,1500.8 L1075.3,1501.0 L1076.3,1501.2 L1076.8,1501.3 M1096.8,1504.8 L1096.9,1504.8 L1097.9,1505.0 L1099.0,1505.1 L1100.0,1505.3 L1101.0,1505.5 L1102.1,1505.6 L1103.1,1505.8 L1104.1,1506.0 L1105.1,1506.2 L1106.2,1506.3 L1107.2,1506.5 L1107.3,1506.5 M1127.3,1509.8 L1127.8,1509.8 L1128.8,1510.0 L1129.9,1510.2 L1130.9,1510.3 L1131.9,1510.5 L1132.9,1510.7 L1134.0,1510.8 L1135.0,1511.0 L1136.0,1511.1 L1137.1,1511.3 L1137.8,1511.4 M1157.8,1514.5 L1158.7,1514.6 L1159.7,1514.7 L1160.7,1514.9 L1161.8,1515.0 L1162.8,1515.2 L1163.8,1515.3 L1164.9,1515.5 L1165.9,1515.6 L1166.9,1515.8 L1168.0,1515.9 L1168.3,1516.0 M1188.3,1518.9 L1188.5,1518.9 L1189.6,1519.0 L1190.6,1519.2 L1191.6,1519.3 L1192.7,1519.5 L1193.7,1519.6 L1194.7,1519.7 L1195.8,1519.9 L1196.8,1520.0 L1197.8,1520.2 L1198.8,1520.3 M1218.8,1523.0 L1219.4,1523.1 L1220.5,1523.2 L1221.5,1523.4 L1222.5,1523.5 L1223.6,1523.6 L1224.6,1523.8 L1225.6,1523.9 L1226.6,1524.0 L1227.7,1524.2 L1228.7,1524.3 L1229.3,1524.4 M1249.3,1526.9 L1249.3,1526.9 L1250.3,1527.0 L1251.4,1527.2 L1252.4,1527.3 L1253.4,1527.4 L1254.4,1527.5 L1255.5,1527.7 L1256.5,1527.8 L1257.5,1527.9 L1258.6,1528.1 L1259.6,1528.2 L1259.8,1528.2 M1279.8,1530.6 L1280.2,1530.6 L1281.2,1530.8 L1282.3,1530.9 L1283.3,1531.0 L1284.3,1531.1 L1285.3,1531.2 L1286.4,1531.4 L1287.4,1531.5 L1288.4,1531.6 L1289.5,1531.7 L1290.3,1531.8 M1310.3,1534.1 L1311.1,1534.2 L1312.1,1534.3 L1313.1,1534.4 L1314.2,1534.5 L1315.2,1534.6 L1316.2,1534.8 L1317.3,1534.9 L1318.3,1535.0 L1319.3,1535.1 L1320.3,1535.2 L1320.8,1535.3 M1340.8,1537.4 L1340.9,1537.4 L1342.0,1537.5 L1343.0,1537.6 L1344.0,1537.7 L1345.1,1537.9 L1346.1,1538.0 L1347.1,1538.1 L1348.2,1538.2 L1349.2,1538.3 L1350.2,1538.4 L1351.2,1538.5 L1351.3,1538.5" stroke="#008080"/>
<path d="M337.4,284.5 L337.4,285.1 M338.2,299.1 L338.2,299.1 L338.2,299.7 M339.0,313.7 L339.1,314.3 M339.9,328.3 L339.9,328.3 L339.9,328.9 M340.8,342.9 L340.8,343.5 M341.6,357.5 L341.7,358.0 L341.7,358.1 M342.6,372.1 L342.6,372.7 L342.6,372.7 M343.5,386.7 L343.5,386.9 L343.6,387.3 M344.5,401.3 L344.5,401.7 L344.5,401.9 M345.5,415.9 L345.5,416.1 L345.5,416.5 M346.5,430.5 L346.6,430.9 L346.6,431.1 M347.6,445.1 L347.6,445.3 L347.6,445.7 M348.7,459.7 L348.7,460.1 L348.8,460.3 M349.8,474.3 L349.9,474.4 L349.9,474.9 M351.0,488.9 L351.0,489.1 L351.1,489.5 M352.2,503.5 L352.3,504.1 L352.3,504.1 M353.5,518.1 L353.5,518.6 L353.5,518.7 M354.7,532.7 L354.8,533.3 M356.1,547.3 L356.1,547.9 M357.5,561.9 L357.5,562.5 M358.9,576.5 L358.9,577.1 M360.3,591.1 L360.4,591.7 M361.9,605.7 L361.9,606.3 L361.9,606.3 M363.4,620.3 L363.5,620.9 M365.1,634.9 L365.1,635.5 M366.7,649.5 L366.8,650.1 M368.5,664.1 L368.6,664.7 M370.3,678.7 L370.3,678.8 L370.4,679.3 M372.2,693.3 L372.3,693.9 M374.1,707.9 L374.2,708.4 L374.2,708.5 M376.2,722.5 L376.3,723.1 M378.3,737.1 L378.3,737.3 L378.4,737.7 M380.5,751.7 L380.6,752.3 L380.6,752.3 M382.7,766.3 L382.8,766.7 L382.8,766.9 M385.1,780.9 L385.2,781.5 M387.6,795.5 L387.7,796.1 M390.2,810.1 L390.2,810.2 L390.3,810.7 M392.9,824.7 L393.0,825.3 M395.7,839.3 L395.7,839.6 L395.8,839.9 M398.6,853.9 L398.7,854.5 M401.7,868.5 L401.8,869.1 M404.9,883.1 L404.9,883.4 L405.0,883.7 M408.2,897.7 L408.2,897.7 L408.3,898.3 M411.7,912.3 L411.9,912.9 M415.4,926.9 L415.5,927.5 M419.2,941.5 L419.3,941.6 L419.4,942.1 M423.3,956.1 L423.4,956.3 L423.5,956.7 M427.6,970.7 L427.7,971.0 L427.7,971.3 M432.0,985.3 L432.2,985.7 L432.2,985.9 M436.8,999.9 L436.9,1000.2 L437.0,1000.5 M441.7,1014.5 L441.9,1015.1 M447.0,1029.1 L447.2,1029.6 L447.2,1029.7 M452.5,1043.7 L452.8,1044.3 M458.4,1058.3 L458.5,1058.5 L458.6,1058.9 M464.6,1072.9 L464.7,1073.1 L464.9,1073.5 M471.2,1087.5 L471.5,1088.1 M478.2,1102.1 L478.5,1102.7 M485.6,1116.7 L485.9,1117.3 M493.5,1131.3 L493.9,1131.9 M501.9,1145.9 L502.3,1146.5 M510.9,1160.5 L511.0,1160.6 L511.3,1161.1 M520.6,1175.1 L521.0,1175.7 M530.9,1189.7 L531.3,1190.3 M542.0,1204.3 L542.4,1204.9 M553.9,1218.9 L554.3,1219.4 L554.4,1219.5 M566.7,1233.5 L567.2,1234.1 M580.5,1248.1 L581.0,1248.6 L581.1,1248.7 M595.1,1262.3 L595.4,1262.6 L595.7,1262.9 M609.7,1275.5 L609.9,1275.6 L610.3,1276.0 M624.3,1287.8 L624.9,1288.3 M638.9,1299.2 L639.5,1299.7 M653.5,1309.9 L654.1,1310.4 M668.1,1320.0 L668.6,1320.3 L668.7,1320.4 M682.7,1329.4 L683.0,1329.6 L683.3,1329.8 M697.3,1338.3 L697.4,1338.3 L697.9,1338.7 M711.9,1346.7 L712.5,1347.0 M726.5,1354.7 L727.1,1355.0 M741.1,1362.2 L741.7,1362.5 L741.7,1362.5 M755.7,1369.4 L756.1,1369.5 L756.3,1369.7 M770.3,1376.2 L770.5,1376.3 L770.9,1376.5 M784.9,1382.7 L785.5,1382.9 M799.5,1388.9 L800.1,1389.1 M814.1,1394.8 L814.7,1395.0 M828.7,1400.4 L829.2,1400.6 L829.3,1400.7 M843.3,1405.9 L843.6,1406.0 L843.9,1406.1 M857.9,1411.1 L858.0,1411.1 L858.5,1411.3 M872.5,1416.0 L873.1,1416.2 M887.1,1420.8 L887.7,1421.0 M901.7,1425.5 L902.3,1425.6 L902.3,1425.6 M916.3,1429.9 L916.7,1430.0 L916.9,1430.1 M930.9,1434.2 L931.1,1434.2 L931.5,1434.3 M945.5,1438.3 L945.5,1438.3 L946.1,1438.5 M960.1,1442.3 L960.7,1442.4 M974.7,1446.1 L975.3,1446.3 M989.3,1449.8 L989.8,1450.0 L989.9,1450.0 M1003.9,1453.4 L1004.2,1453.5 L1004.5,1453.6 M1018.5,1456.9 L1018.6,1456.9 L1019.1,1457.1 M1033.1,1460.3 L1033.7,1460.4 M1047.7,1463.6 L1048.3,1463.7 M1062.3,1466.7 L1062.9,1466.9 M1076.9,1469.8 L1077.3,1469.9 L1077.5,1469.9 M1091.5,1472.8 L1091.8,1472.8 L1092.1,1472.9 M1106.1,1475.7 L1106.2,1475.7 L1106.7,1475.8 M1120.7,1478.5 L1121.3,1478.6 M1135.3,1481.2 L1135.9,1481.4 M1149.9,1483.9 L1150.4,1484.0 L1150.5,1484.0 M1164.5,1486.5 L1164.9,1486.6 L1165.1,1486.6 M1179.1,1489.0 L1179.3,1489.1 L1179.7,1489.1 M1193.7,1491.5 L1194.3,1491.6 M1208.3,1493.9 L1208.9,1494.0 M1222.9,1496.2 L1223.5,1496.3 M1237.5,1498.5 L1238.0,1498.6 L1238.1,1498.6 M1252.1,1500.7 L1252.4,1500.8 L1252.7,1500.8 M1266.7,1502.9 L1266.8,1502.9 L1267.3,1503.0 M1281.3,1505.0 L1281.9,1505.1 M1295.9,1507.1 L1296.5,1507.2 M1310.5,1509.1 L1311.1,1509.2 L1311.1,1509.2 M1325.1,1511.1 L1325.5,1511.2 L1325.7,1511.2 M1339.7,1513.1 L1339.9,1513.1 L1340.3,1513.1 M1354.3,1515.0 L1354.3,1515.0 L1354.9,1515.0" stroke="#FF00FF"/>
</g>
<path d="M1359.5,63.5V1654.5 M1326.5,1654.50H1392.5 M1341.0,1495.40H1378.0 M1326.5,1336.30H1392.5 M1341.0,1177.20H1378.0 M1326.5,1018.10H1392.5 M1341.0,859.00H1378.0 M1326.5,699.90H1392.5 M1341.0,540.80H1378.0 M1326.5,381.70H1392.5 M1341.0,222.60H1378.0 M1326.5,63.50H1392.5" fill="none" stroke="#000" stroke-width="7" stroke-linecap="butt"/>
<g clip-path="url(#cb)" fill="none" stroke-linecap="round" stroke-linejoin="round" stroke-width="9">
<path d="M1361.40,478.51 L1361.59,481.97 L1361.77,485.41 L1361.96,488.83 L1362.15,492.22 L1362.33,495.60 L1362.52,498.95 L1362.70,502.28 L1362.89,505.59 L1363.07,508.88 L1363.26,512.15 L1363.44,515.40 L1363.63,518.63 L1363.82,521.84 L1364.00,525.03 L1364.19,528.20 L1364.37,531.35 L1364.56,534.48 L1364.74,537.60 L1364.93,540.69 L1365.11,543.76 L1365.30,546.82 L1365.49,549.86 L1365.67,552.88 L1365.86,555.88 L1366.04,558.87 L1366.23,561.83 L1366.41,564.78 L1366.60,567.71 L1366.78,570.63 L1366.97,573.53 L1367.16,576.41 L1367.34,579.27 L1367.53,582.12 L1367.71,584.95 L1367.90,587.76 L1368.08,590.56 L1368.27,593.35 L1368.45,596.11 L1368.64,598.87 L1368.83,601.60 L1369.01,604.32 L1369.20,607.03 L1369.38,609.72 L1369.57,612.39 L1369.75,615.05 L1369.94,617.70 L1370.12,620.33 L1370.31,622.94 L1370.50,625.55 L1370.68,628.13 L1370.87,630.71 L1371.05,633.27 L1371.24,635.81 L1371.42,638.34 L1371.61,640.86 L1371.79,643.37 L1371.98,645.86 L1372.17,648.34 L1372.35,650.80 L1372.54,653.25 L1372.72,655.69 L1372.91,658.12 L1373.09,660.53 L1373.28,662.93 L1373.46,665.32 L1373.65,667.69 L1373.84,670.05 L1374.02,672.40 L1374.21,674.74 L1374.39,677.07 L1374.58,679.38 L1374.76,681.69 L1374.95,683.98 L1375.14,686.25 L1375.32,688.52 L1375.51,690.78 L1375.69,693.02 L1375.88,695.25 L1376.06,697.48 L1376.25,699.69 L1376.43,701.89 L1376.62,704.07 L1376.81,706.25 L1376.99,708.42 L1377.18,710.57 L1377.36,712.72 L1377.55,714.85 L1377.73,716.98 L1377.92,719.09 L1378.10,721.20 L1378.29,723.29 L1378.48,725.37 L1378.66,727.45 L1378.85,729.51 L1379.03,731.56 L1379.22,733.60 L1379.40,735.64 L1379.59,737.66 L1379.77,739.68 L1379.96,741.68 L1380.57,748.24 L1381.19,754.70 L1381.80,761.06 L1382.42,767.33 L1383.03,773.50 L1383.64,779.58 L1384.26,785.56 L1384.87,791.46 L1385.48,797.28 L1386.10,803.00 L1386.71,808.65 L1387.33,814.22 L1387.94,819.70 L1388.55,825.11 L1389.17,830.45 L1389.78,835.71 L1390.39,840.90 L1391.01,846.02 L1391.62,851.07 L1392.24,856.05 L1392.85,860.96 L1393.46,865.81 L1394.08,870.60 L1394.69,875.32 L1395.31,879.98 L1395.92,884.59 L1396.53,889.13 L1397.15,893.62 L1397.76,898.05 L1398.37,902.42 L1398.99,906.74 L1399.60,911.01 L1400.22,915.22 L1400.83,919.39 L1401.44,923.50 L1402.06,927.56 L1402.67,931.58 L1403.28,935.55 L1403.90,939.47 L1404.51,943.35 L1405.13,947.18 L1405.74,950.96 L1406.35,954.71 L1406.97,958.41 L1407.58,962.06 L1408.19,965.68 L1408.81,969.26 L1409.42,972.80 L1410.04,976.29 L1410.65,979.75 L1411.26,983.17 L1411.88,986.56 L1412.49,989.91 L1413.11,993.22 L1413.72,996.50 L1414.33,999.74 L1414.95,1002.95 L1415.56,1006.12 L1416.17,1009.26 L1416.79,1012.37 L1417.40,1015.45 L1418.02,1018.50 L1418.63,1021.51 L1419.24,1024.49 L1419.86,1027.45 L1420.47,1030.37 L1421.08,1033.27 L1421.70,1036.13 L1422.31,1038.97 L1422.93,1041.78 L1423.54,1044.57 L1424.15,1047.32 L1424.77,1050.05 L1425.38,1052.76 L1425.99,1055.43 L1426.61,1058.09 L1427.22,1060.71 L1427.84,1063.32 L1428.45,1065.90 L1429.06,1068.45 L1429.68,1070.98 L1430.29,1073.49 L1430.91,1075.97 L1431.52,1078.43 L1432.13,1080.87 L1432.75,1083.29 L1433.36,1085.69 L1433.97,1088.06 L1434.59,1090.42 L1435.20,1092.75 L1435.82,1095.06 L1436.43,1097.35 L1437.04,1099.63 L1437.66,1101.88 L1438.27,1104.11 L1438.88,1106.33 L1439.50,1108.52 L1440.11,1110.70 L1440.73,1112.85 L1441.34,1114.99 L1441.95,1117.12 L1442.57,1119.22 L1443.18,1121.31 L1443.80,1123.38 L1444.41,1125.43 L1445.02,1127.46 L1445.64,1129.48 L1446.25,1131.48 L1446.86,1133.47 L1447.48,1135.44 L1448.09,1137.39 L1448.71,1139.33 L1449.32,1141.26 L1449.93,1143.17 L1450.55,1145.06 L1451.16,1146.94 L1451.77,1148.80 L1452.39,1150.65 L1453.00,1152.48 L1453.62,1154.31 L1454.23,1156.11 L1454.84,1157.90 L1455.46,1159.68 L1456.07,1161.45 L1456.68,1163.20 L1457.30,1164.94 L1457.91,1166.67 L1458.53,1168.38 L1459.14,1170.08 L1459.75,1171.77 L1460.37,1173.45 L1460.98,1175.11 L1461.60,1176.76 L1463.86,1182.74 L1466.94,1190.65 L1470.03,1198.29 L1473.12,1205.66 L1476.20,1212.79 L1479.29,1219.68 L1482.37,1226.35 L1485.46,1232.81 L1488.55,1239.06 L1491.63,1245.13 L1494.72,1251.01 L1497.80,1256.71 L1500.89,1262.25 L1503.98,1267.63 L1507.06,1272.86 L1510.15,1277.94 L1513.23,1282.88 L1516.32,1287.69 L1519.41,1292.37 L1522.49,1296.92 L1525.58,1301.36 L1528.66,1305.69 L1531.75,1309.91 L1534.84,1314.02 L1537.92,1318.03 L1541.01,1321.94 L1544.10,1325.77 L1547.18,1329.50 L1550.27,1333.14 L1553.35,1336.70 L1556.44,1340.18 L1559.53,1343.59 L1562.61,1346.91 L1565.70,1350.17 L1568.78,1353.35 L1571.87,1356.47 L1574.96,1359.52 L1578.04,1362.51 L1581.13,1365.44 L1584.21,1368.30 L1587.30,1371.11 L1590.39,1373.86 L1593.47,1376.56 L1596.56,1379.21 L1599.64,1381.81 L1602.73,1384.35 L1605.82,1386.85 L1608.90,1389.30 L1611.99,1391.70 L1615.07,1394.07 L1618.16,1396.39 L1621.25,1398.66 L1624.33,1400.90 L1627.42,1403.10 L1630.51,1405.26 L1633.59,1407.38 L1636.68,1409.46 L1639.76,1411.51 L1642.85,1413.53 L1645.94,1415.51 L1649.02,1417.46 L1652.11,1419.38 L1655.19,1421.27 L1658.28,1423.12 L1661.37,1424.95 L1664.45,1426.75 L1667.54,1428.52 L1670.62,1430.26 L1673.71,1431.98 L1676.80,1433.67 L1679.88,1435.33 L1682.97,1436.97 L1686.05,1438.59 L1689.14,1440.18 L1692.23,1441.75 L1695.31,1443.29 L1698.40,1444.82 L1701.48,1446.32 L1704.57,1447.80 L1707.66,1449.26 L1710.74,1450.70 L1713.83,1452.12 L1716.92,1453.52 L1720.00,1454.90 L1723.09,1456.26 L1726.17,1457.60 L1729.26,1458.93 L1732.35,1460.24 L1735.43,1461.53 L1738.52,1462.80 L1741.60,1464.06 L1744.69,1465.30 L1747.78,1466.53 L1750.86,1467.74 L1753.95,1468.93 L1757.03,1470.11 L1760.12,1471.28 L1763.21,1472.43 L1766.29,1473.57 L1769.38,1474.69 L1772.46,1475.80 L1775.55,1476.90 L1778.64,1477.98 L1781.72,1479.05 L1784.81,1480.11 L1787.89,1481.15 L1790.98,1482.19 L1794.07,1483.21 L1797.15,1484.22 L1800.24,1485.22 L1803.32,1486.20 L1806.41,1487.18 L1809.50,1488.14 L1812.58,1489.10 L1815.67,1490.04 L1818.76,1490.98 L1821.84,1491.90 L1824.93,1492.81 L1828.01,1493.71 L1831.10,1494.61 L1834.19,1495.49 L1837.27,1496.37 L1840.36,1497.23 L1843.44,1498.09 L1846.53,1498.94 L1849.62,1499.77 L1852.70,1500.60 L1855.79,1501.43 L1858.87,1502.24 L1861.96,1503.04 L1865.05,1503.84 L1868.13,1504.63 L1871.22,1505.41 L1874.30,1506.18 L1877.39,1506.95 L1880.48,1507.71 L1883.56,1508.46 L1886.65,1509.20 L1889.73,1509.94 L1892.82,1510.67 L1895.91,1511.39 L1898.99,1512.11 L1902.08,1512.82 L1905.17,1513.52 L1908.25,1514.21 L1911.34,1514.90 L1914.42,1515.58 L1917.51,1516.26 L1920.60,1516.93 L1923.68,1517.60 L1926.77,1518.25 L1929.85,1518.91 L1932.94,1519.55 L1936.03,1520.19 L1939.11,1520.83 L1942.20,1521.46 L1945.28,1522.08 L1948.37,1522.70 L1951.46,1523.31 L1954.54,1523.92 L1957.63,1524.52 L1960.71,1525.12 L1963.80,1525.71 L1966.89,1526.30 L1969.97,1526.88 L1973.06,1527.46 L1976.14,1528.03 L1979.23,1528.60 L1982.32,1529.16 L1985.40,1529.72 L1988.49,1530.27 L1991.58,1530.82 L1994.66,1531.37 L1997.75,1531.91 L2000.83,1532.44 L2003.92,1532.97 L2007.01,1533.50 L2010.09,1534.02 L2013.18,1534.54 L2016.26,1535.06 L2019.35,1535.57 L2022.44,1536.07 L2025.52,1536.58 L2028.61,1537.08 L2031.69,1537.57 L2034.78,1538.06 L2037.87,1538.55 L2040.95,1539.03 L2044.04,1539.51 L2047.12,1539.99 L2050.21,1540.46 L2053.30,1540.93 L2056.38,1541.40 L2059.47,1541.86 L2062.55,1542.32 L2065.64,1542.77 L2068.73,1543.23 L2071.81,1543.67 L2074.90,1544.12 L2077.99,1544.56 L2081.07,1545.00 L2084.16,1545.44 L2087.24,1545.87 L2090.33,1546.30 L2093.42,1546.73 L2096.50,1547.15 L2099.59,1547.57 L2102.67,1547.99 L2105.76,1548.40 L2108.85,1548.81 L2111.93,1549.22 L2115.02,1549.63 L2118.10,1550.03 L2121.19,1550.43 L2124.28,1550.83 L2127.36,1551.22 L2130.45,1551.62 L2133.53,1552.01 L2136.62,1552.39 L2139.71,1552.78 L2142.79,1553.16 L2145.88,1553.54 L2148.96,1553.92 L2152.05,1554.29 L2155.14,1554.66 L2158.22,1555.03 L2161.31,1555.40 L2164.40,1555.76 L2167.48,1556.12 L2170.57,1556.48 L2173.65,1556.84 L2176.74,1557.20 L2179.83,1557.55 L2182.91,1557.90 L2186.00,1558.25 L2189.08,1558.59 L2192.17,1558.94 L2195.26,1559.28 L2198.34,1559.62 L2201.43,1559.96 L2204.51,1560.29 L2207.60,1560.63 L2210.69,1560.96 L2213.77,1561.29 L2216.86,1561.61 L2219.94,1561.94 L2223.03,1562.26 L2226.12,1562.58 L2229.20,1562.90 L2232.29,1563.22 L2235.37,1563.53 L2238.46,1563.85 L2241.55,1564.16 L2244.63,1564.47 L2247.72,1564.78 L2250.80,1565.08 L2253.89,1565.39 L2256.98,1565.69 L2260.06,1565.99 L2263.15,1566.29 L2266.24,1566.59 L2269.32,1566.88 L2272.41,1567.18 L2275.49,1567.47 L2278.58,1567.76 L2281.67,1568.05 L2284.75,1568.33 L2287.84,1568.62 L2290.92,1568.90 L2294.01,1569.18 L2297.10,1569.46 L2300.18,1569.74 L2303.27,1570.02 L2306.35,1570.30 L2309.44,1570.57 L2312.53,1570.84 L2315.61,1571.12 L2318.70,1571.38 L2321.78,1571.65 L2324.87,1571.92 L2327.96,1572.19 L2331.04,1572.45 L2334.13,1572.71 L2337.21,1572.97 L2340.30,1573.23 L2343.39,1573.49 L2346.47,1573.75 L2349.56,1574.00 L2352.65,1574.26 L2355.73,1574.51 L2358.82,1574.76 L2361.90,1575.01 L2364.99,1575.26 L2368.08,1575.51 L2371.16,1575.75 L2374.25,1576.00 L2377.33,1576.24 L2380.42,1576.48 L2383.51,1576.72 L2386.59,1576.96" stroke="#000000" stroke-width="8"/>
<path d="M1361.4,478.5 L1361.5,479.7 L1361.5,480.8 L1361.6,482.0 L1361.7,483.1 L1361.7,484.3 L1361.8,485.4 L1361.8,486.5 L1361.9,487.7 L1362.0,488.8 L1362.0,489.9 L1362.1,491.1 L1362.1,492.2 L1362.2,493.3 L1362.3,494.5 L1362.3,495.6 L1362.4,496.7 L1362.5,497.8 L1362.5,498.9 L1362.6,500.0 L1362.6,501.1 L1362.7,502.2 L1362.8,503.4 L1362.8,504.5 L1362.9,505.6 L1362.9,506.5 M1365.2,545.5 L1365.2,545.6 L1365.3,546.7 L1365.4,547.7 L1365.4,548.7 L1365.5,549.7 L1365.5,550.7 L1365.6,551.7 L1365.7,552.7 L1365.7,553.7 L1365.8,554.7 L1365.9,555.7 L1365.9,556.7 L1366.0,557.7 L1366.0,558.6 L1366.1,559.6 L1366.2,560.6 L1366.2,561.6 L1366.3,562.6 L1366.4,563.6 L1366.4,564.5 L1366.5,565.5 L1366.5,566.5 L1366.6,567.4 L1366.7,568.4 L1366.7,569.4 L1366.8,570.3 L1366.8,571.3 L1366.9,572.3 L1367.0,573.2 L1367.0,573.5 M1369.6,612.5 L1369.6,612.7 L1369.7,613.6 L1369.8,614.5 L1369.8,615.4 L1369.9,616.2 L1369.9,617.1 L1370.0,618.0 L1370.1,618.9 L1370.1,619.7 L1370.2,620.6 L1370.2,621.5 L1370.3,622.3 L1370.4,623.2 L1370.4,624.0 L1370.5,624.9 L1370.6,625.8 L1370.6,626.6 L1370.7,627.5 L1370.7,628.3 L1370.8,629.2 L1370.9,630.0 L1370.9,630.9 L1371.0,631.7 L1371.1,632.6 L1371.1,633.4 L1371.2,634.2 L1371.2,635.1 L1371.3,635.9 L1371.4,636.8 L1371.4,637.6 L1371.5,638.4 L1371.5,639.3 L1371.6,640.1 L1371.6,640.5 M1374.7,679.5 L1374.7,679.8 L1374.8,680.5 L1374.8,681.3 L1374.9,682.1 L1374.9,682.8 L1375.0,683.6 L1375.1,684.3 L1375.1,685.1 L1375.2,685.8 L1375.3,686.6 L1375.3,687.3 L1375.4,688.1 L1375.4,688.8 L1375.5,689.5 L1375.6,690.3 L1375.6,691.0 L1375.7,691.8 L1375.8,692.5 L1375.8,693.2 L1375.9,694.0 L1375.9,694.7 L1376.0,695.4 L1376.1,696.2 L1376.1,696.9 L1376.2,697.6 L1376.2,698.4 L1376.3,699.1 L1376.4,699.8 L1376.4,700.5 L1376.5,701.3 L1376.6,702.0 L1376.6,702.7 L1376.7,703.4 L1376.7,704.1 L1376.8,704.8 L1376.9,705.6 L1376.9,706.3 L1377.0,707.0 L1377.0,707.5 M1380.6,746.5 L1380.8,748.5 L1381.0,750.6 L1381.2,752.7 L1381.4,754.8 L1381.6,756.9 L1381.8,759.0 L1382.0,761.1 L1382.2,763.1 L1382.4,765.2 L1382.6,767.2 L1382.8,769.2 L1383.0,771.3 L1383.2,773.3 L1383.4,774.5 M1387.6,813.5 L1387.7,815.0 L1387.9,816.8 L1388.1,818.6 L1388.3,820.4 L1388.6,822.2 L1388.8,823.9 L1389.0,825.7 L1389.2,827.4 L1389.4,829.1 L1389.6,830.9 L1389.8,832.6 L1390.0,834.3 L1390.2,836.0 L1390.4,837.7 L1390.6,839.4 L1390.8,841.1 L1390.9,841.5 M1395.9,880.5 L1395.9,880.7 L1396.1,882.2 L1396.3,883.7 L1396.5,885.2 L1396.7,886.7 L1396.9,888.1 L1397.1,889.6 L1397.4,891.0 L1397.6,892.5 L1397.8,893.9 L1398.0,895.4 L1398.2,896.8 L1398.4,898.3 L1398.6,899.7 L1398.8,901.1 L1399.0,902.5 L1399.2,903.9 L1399.4,905.3 L1399.6,906.7 L1399.8,908.1 L1399.9,908.5 M1406.0,947.5 L1406.1,948.4 L1406.4,949.7 L1406.6,950.9 L1406.8,952.1 L1407.0,953.3 L1407.2,954.5 L1407.4,955.7 L1407.6,956.9 L1407.8,958.1 L1408.0,959.3 L1408.2,960.4 L1408.4,961.6 L1408.6,962.8 L1408.8,964.0 L1409.0,965.1 L1409.2,966.3 L1409.4,967.4 L1409.6,968.6 L1409.8,969.7 L1410.0,970.9 L1410.2,972.0 L1410.4,973.1 L1410.7,974.3 L1410.9,975.4 L1410.9,975.5 M1418.5,1014.5 L1418.6,1015.3 L1418.8,1016.3 L1419.0,1017.3 L1419.2,1018.2 L1419.4,1019.2 L1419.7,1020.2 L1419.9,1021.1 L1420.1,1022.1 L1420.3,1023.0 L1420.5,1024.0 L1420.7,1025.0 L1420.9,1025.9 L1421.1,1026.8 L1421.3,1027.8 L1421.5,1028.7 L1421.7,1029.7 L1421.9,1030.6 L1422.1,1031.5 L1422.3,1032.5 L1422.5,1033.4 L1422.7,1034.3 L1422.9,1035.2 L1423.1,1036.1 L1423.3,1037.0 L1423.5,1037.9 L1423.7,1038.9 L1423.9,1039.8 L1424.2,1040.7 L1424.4,1041.6 L1424.6,1042.4 L1424.6,1042.5 M1434.2,1081.5 L1434.4,1082.2 L1434.6,1083.0 L1434.8,1083.8 L1435.0,1084.5 L1435.2,1085.3 L1435.4,1086.1 L1435.6,1086.8 L1435.8,1087.6 L1436.0,1088.3 L1436.2,1089.1 L1436.4,1089.8 L1436.6,1090.6 L1436.8,1091.3 L1437.0,1092.1 L1437.2,1092.8 L1437.5,1093.5 L1437.7,1094.3 L1437.9,1095.0 L1438.1,1095.7 L1438.3,1096.5 L1438.5,1097.2 L1438.7,1097.9 L1438.9,1098.6 L1439.1,1099.4 L1439.3,1100.1 L1439.5,1100.8 L1439.7,1101.5 L1439.9,1102.2 L1440.1,1102.9 L1440.3,1103.6 L1440.5,1104.3 L1440.7,1105.1 L1440.9,1105.8 L1441.1,1106.5 L1441.3,1107.2 L1441.5,1107.9 L1441.7,1108.6 L1442.0,1109.2 L1442.0,1109.5 M1454.5,1148.5 L1454.6,1148.8 L1454.8,1149.4 L1455.0,1150.0 L1455.3,1150.5 L1455.5,1151.1 L1455.7,1151.7 L1455.9,1152.3 L1456.1,1152.9 L1456.3,1153.4 L1456.5,1154.0 L1456.7,1154.6 L1456.9,1155.2 L1457.1,1155.7 L1457.3,1156.3 L1457.5,1156.9 L1457.7,1157.4 L1457.9,1158.0 L1458.1,1158.6 L1458.3,1159.1 L1458.5,1159.7 L1458.7,1160.2 L1458.9,1160.8 L1459.1,1161.4 L1459.3,1161.9 L1459.5,1162.5 L1459.8,1163.0 L1460.0,1163.6 L1460.2,1164.1 L1460.4,1164.7 L1460.6,1165.2 L1460.8,1165.8 L1461.0,1166.3 L1461.2,1166.8 L1461.4,1167.4 L1461.6,1167.9 L1461.8,1168.5 L1462.8,1171.2 L1463.9,1173.8 L1464.9,1176.4 L1464.9,1176.5 M1481.8,1215.5 L1482.4,1216.8 L1483.4,1218.9 L1484.4,1221.1 L1485.5,1223.2 L1486.5,1225.2 L1487.5,1227.3 L1488.5,1229.3 L1489.6,1231.4 L1490.6,1233.4 L1491.6,1235.3 L1492.7,1237.3 L1493.7,1239.2 L1494.7,1241.1 L1495.7,1243.0 L1496.0,1243.5 M1519.7,1282.5 L1520.4,1283.6 L1521.5,1285.1 L1522.5,1286.5 L1523.5,1288.0 L1524.6,1289.5 L1525.6,1290.9 L1526.6,1292.4 L1527.6,1293.8 L1528.7,1295.2 L1529.7,1296.6 L1530.7,1298.0 L1531.8,1299.4 L1532.8,1300.8 L1533.8,1302.1 L1534.8,1303.5 L1535.9,1304.8 L1536.9,1306.2 L1537.9,1307.5 L1539.0,1308.8 L1540.0,1310.1 L1540.3,1310.5 M1575.7,1349.4 L1576.0,1349.7 L1577.0,1350.7 L1578.0,1351.7 L1579.1,1352.7 L1580.1,1353.6 L1581.1,1354.6 L1582.2,1355.6 L1583.2,1356.5 L1584.2,1357.5 L1585.2,1358.4 L1586.3,1359.3 L1587.3,1360.3 L1588.3,1361.2 L1589.4,1362.1 L1590.4,1363.0 L1591.4,1363.9 L1592.4,1364.8 L1593.5,1365.7 L1594.5,1366.6 L1595.5,1367.5 L1596.6,1368.3 L1597.6,1369.2 L1598.6,1370.1 L1599.6,1370.9 L1600.7,1371.8 L1601.7,1372.6 L1602.7,1373.5 L1603.7,1374.3 M1642.7,1402.6 L1642.8,1402.7 L1643.9,1403.3 L1644.9,1404.0 L1645.9,1404.7 L1647.0,1405.3 L1648.0,1406.0 L1649.0,1406.6 L1650.1,1407.3 L1651.1,1407.9 L1652.1,1408.5 L1653.1,1409.2 L1654.2,1409.8 L1655.2,1410.4 L1656.2,1411.1 L1657.3,1411.7 L1658.3,1412.3 L1659.3,1412.9 L1660.3,1413.5 L1661.4,1414.1 L1662.4,1414.7 L1663.4,1415.3 L1664.5,1415.9 L1665.5,1416.5 L1666.5,1417.1 L1667.5,1417.7 L1668.6,1418.3 L1669.6,1418.9 L1670.6,1419.5 L1670.7,1419.5 M1709.7,1439.5 L1709.7,1439.5 L1710.7,1440.0 L1711.8,1440.5 L1712.8,1441.0 L1713.8,1441.5 L1714.9,1441.9 L1715.9,1442.4 L1716.9,1442.9 L1717.9,1443.3 L1719.0,1443.8 L1720.0,1444.3 L1721.0,1444.7 L1722.1,1445.2 L1723.1,1445.6 L1724.1,1446.1 L1725.1,1446.5 L1726.2,1447.0 L1727.2,1447.4 L1728.2,1447.9 L1729.3,1448.3 L1730.3,1448.8 L1731.3,1449.2 L1732.3,1449.7 L1733.4,1450.1 L1734.4,1450.5 L1735.4,1451.0 L1736.5,1451.4 L1737.5,1451.8 L1737.7,1451.9 M1776.7,1466.9 L1777.6,1467.2 L1778.6,1467.6 L1779.7,1468.0 L1780.7,1468.3 L1781.7,1468.7 L1782.8,1469.1 L1783.8,1469.4 L1784.8,1469.8 L1785.8,1470.1 L1786.9,1470.5 L1787.9,1470.8 L1788.9,1471.2 L1790.0,1471.5 L1791.0,1471.9 L1792.0,1472.2 L1793.0,1472.6 L1794.1,1472.9 L1795.1,1473.3 L1796.1,1473.6 L1797.2,1473.9 L1798.2,1474.3 L1799.2,1474.6 L1800.2,1475.0 L1801.3,1475.3 L1802.3,1475.6 L1803.3,1476.0 L1804.4,1476.3 L1804.7,1476.4 M1843.7,1488.1 L1844.5,1488.3 L1845.5,1488.6 L1846.5,1488.9 L1847.6,1489.2 L1848.6,1489.5 L1849.6,1489.8 L1850.6,1490.0 L1851.7,1490.3 L1852.7,1490.6 L1853.7,1490.9 L1854.8,1491.2 L1855.8,1491.4 L1856.8,1491.7 L1857.8,1492.0 L1858.9,1492.3 L1859.9,1492.5 L1860.9,1492.8 L1862.0,1493.1 L1863.0,1493.4 L1864.0,1493.6 L1865.0,1493.9 L1866.1,1494.2 L1867.1,1494.4 L1868.1,1494.7 L1869.2,1495.0 L1870.2,1495.2 L1871.2,1495.5 L1871.7,1495.6 M1910.7,1505.1 L1911.3,1505.2 L1912.4,1505.4 L1913.4,1505.7 L1914.4,1505.9 L1915.5,1506.1 L1916.5,1506.4 L1917.5,1506.6 L1918.5,1506.8 L1919.6,1507.0 L1920.6,1507.3 L1921.6,1507.5 L1922.7,1507.7 L1923.7,1508.0 L1924.7,1508.2 L1925.7,1508.4 L1926.8,1508.6 L1927.8,1508.9 L1928.8,1509.1 L1929.9,1509.3 L1930.9,1509.5 L1931.9,1509.7 L1932.9,1510.0 L1934.0,1510.2 L1935.0,1510.4 L1936.0,1510.6 L1937.1,1510.8 L1938.1,1511.1 L1938.7,1511.2 M1977.7,1518.9 L1978.2,1519.0 L1979.2,1519.2 L1980.3,1519.4 L1981.3,1519.6 L1982.3,1519.8 L1983.3,1520.0 L1984.4,1520.2 L1985.4,1520.4 L1986.4,1520.6 L1987.5,1520.8 L1988.5,1521.0 L1989.5,1521.1 L1990.5,1521.3 L1991.6,1521.5 L1992.6,1521.7 L1993.6,1521.9 L1994.7,1522.1 L1995.7,1522.3 L1996.7,1522.5 L1997.7,1522.6 L1998.8,1522.8 L1999.8,1523.0 L2000.8,1523.2 L2001.9,1523.4 L2002.9,1523.6 L2003.9,1523.7 L2004.9,1523.9 L2005.7,1524.0 M2044.7,1530.6 L2045.1,1530.6 L2046.1,1530.8 L2047.1,1531.0 L2048.2,1531.1 L2049.2,1531.3 L2050.2,1531.4 L2051.2,1531.6 L2052.3,1531.8 L2053.3,1531.9 L2054.3,1532.1 L2055.4,1532.2 L2056.4,1532.4 L2057.4,1532.6 L2058.4,1532.7 L2059.5,1532.9 L2060.5,1533.0 L2061.5,1533.2 L2062.6,1533.4 L2063.6,1533.5 L2064.6,1533.7 L2065.6,1533.8 L2066.7,1534.0 L2067.7,1534.1 L2068.7,1534.3 L2069.8,1534.4 L2070.8,1534.6 L2071.8,1534.8 L2072.7,1534.9 M2111.7,1540.5 L2111.9,1540.5 L2113.0,1540.6 L2114.0,1540.8 L2115.0,1540.9 L2116.0,1541.0 L2117.1,1541.2 L2118.1,1541.3 L2119.1,1541.5 L2120.2,1541.6 L2121.2,1541.7 L2122.2,1541.9 L2123.2,1542.0 L2124.3,1542.2 L2125.3,1542.3 L2126.3,1542.4 L2127.4,1542.6 L2128.4,1542.7 L2129.4,1542.8 L2130.4,1543.0 L2131.5,1543.1 L2132.5,1543.2 L2133.5,1543.4 L2134.6,1543.5 L2135.6,1543.6 L2136.6,1543.8 L2137.6,1543.9 L2138.7,1544.0 L2139.7,1544.2 M2178.7,1549.0 L2178.8,1549.0 L2179.8,1549.1 L2180.9,1549.2 L2181.9,1549.4 L2182.9,1549.5 L2183.9,1549.6 L2185.0,1549.7 L2186.0,1549.8 L2187.0,1550.0 L2188.1,1550.1 L2189.1,1550.2 L2190.1,1550.3 L2191.1,1550.4 L2192.2,1550.6 L2193.2,1550.7 L2194.2,1550.8 L2195.3,1550.9 L2196.3,1551.0 L2197.3,1551.1 L2198.3,1551.3 L2199.4,1551.4 L2200.4,1551.5 L2201.4,1551.6 L2202.5,1551.7 L2203.5,1551.8 L2204.5,1552.0 L2205.5,1552.1 L2206.6,1552.2 L2206.7,1552.2 M2245.7,1556.4 L2246.7,1556.5 L2247.7,1556.6 L2248.7,1556.7 L2249.8,1556.8 L2250.8,1556.9 L2251.8,1557.0 L2252.9,1557.2 L2253.9,1557.3 L2254.9,1557.4 L2255.9,1557.5 L2257.0,1557.6 L2258.0,1557.7 L2259.0,1557.8 L2260.1,1557.9 L2261.1,1558.0 L2262.1,1558.1 L2263.1,1558.2 L2264.2,1558.3 L2265.2,1558.4 L2266.2,1558.5 L2267.3,1558.6 L2268.3,1558.7 L2269.3,1558.8 L2270.4,1558.9 L2271.4,1559.0 L2272.4,1559.1 L2273.4,1559.2 L2273.7,1559.2 M2312.7,1563.0 L2313.6,1563.0 L2314.6,1563.1 L2315.6,1563.2 L2316.6,1563.3 L2317.7,1563.4 L2318.7,1563.5 L2319.7,1563.6 L2320.8,1563.7 L2321.8,1563.8 L2322.8,1563.9 L2323.8,1564.0 L2324.9,1564.1 L2325.9,1564.2 L2326.9,1564.3 L2328.0,1564.3 L2329.0,1564.4 L2330.0,1564.5 L2331.0,1564.6 L2332.1,1564.7 L2333.1,1564.8 L2334.1,1564.9 L2335.2,1565.0 L2336.2,1565.1 L2337.2,1565.2 L2338.2,1565.3 L2339.3,1565.3 L2340.3,1565.4 L2340.7,1565.5 M2379.7,1568.8 L2380.4,1568.8 L2381.4,1568.9 L2382.5,1569.0 L2383.5,1569.1 L2384.5,1569.2 L2385.6,1569.3 L2386.6,1569.3" stroke="#FF0000"/>
<path d="M1361.4,478.5 L1361.5,479.6 L1361.5,480.6 L1361.6,481.7 L1361.6,482.5 M1363.8,518.5 L1363.9,519.3 L1363.9,520.3 L1364.0,521.3 L1364.1,522.3 L1364.1,522.5 M1366.5,558.5 L1366.5,558.7 L1366.5,559.6 L1366.6,560.5 L1366.7,561.4 L1366.7,562.3 L1366.7,562.5 M1369.3,598.5 L1369.4,599.0 L1369.4,599.8 L1369.5,600.6 L1369.6,601.4 L1369.6,602.3 L1369.6,602.5 M1372.5,638.5 L1372.5,638.9 L1372.6,639.6 L1372.7,640.4 L1372.7,641.1 L1372.8,641.9 L1372.8,642.5 M1376.0,678.5 L1376.0,678.7 L1376.1,679.4 L1376.1,680.1 L1376.2,680.8 L1376.2,681.4 L1376.3,682.1 L1376.3,682.5 M1379.8,718.5 L1379.8,718.7 L1379.9,719.3 L1380.0,719.9 L1380.2,722.0 L1380.2,722.5 M1384.1,758.5 L1384.3,760.2 L1384.5,762.0 L1384.5,762.5 M1388.8,798.5 L1389.0,799.8 L1389.2,801.4 L1389.3,802.5 M1394.1,838.5 L1394.3,839.9 L1394.5,841.3 L1394.7,842.5 M1400.0,878.5 L1400.2,879.6 L1400.4,880.9 L1400.6,882.2 L1400.7,882.5 M1406.8,918.5 L1407.0,919.6 L1407.2,920.7 L1407.4,921.9 L1407.5,922.5 M1414.4,958.5 L1414.5,959.0 L1414.7,960.0 L1414.9,961.0 L1415.2,962.0 L1415.3,962.5 M1423.2,998.5 L1423.3,999.1 L1423.5,1000.0 L1423.7,1000.8 L1423.9,1001.7 L1424.1,1002.5 M1433.3,1038.5 L1433.4,1038.6 L1433.6,1039.4 L1433.8,1040.1 L1434.0,1040.9 L1434.2,1041.6 L1434.4,1042.4 L1434.4,1042.5 M1445.1,1078.5 L1445.2,1078.8 L1445.4,1079.5 L1445.6,1080.1 L1445.8,1080.8 L1446.0,1081.4 L1446.3,1082.0 L1446.4,1082.5 M1459.0,1118.5 L1459.1,1118.9 L1459.3,1119.4 L1459.5,1120.0 L1459.8,1120.5 L1460.0,1121.1 L1460.2,1121.6 L1460.4,1122.1 L1460.5,1122.5 M1475.5,1158.5 L1476.2,1160.1 L1477.2,1162.3 L1477.3,1162.5 M1495.4,1198.5 L1495.7,1199.2 L1496.8,1201.1 L1497.6,1202.5 M1519.6,1238.5 L1520.4,1239.7 L1521.5,1241.2 L1522.4,1242.5 M1549.9,1278.5 L1550.3,1279.0 L1551.3,1280.2 L1552.3,1281.4 L1553.3,1282.5 M1587.7,1318.0 L1588.3,1318.6 L1589.4,1319.6 L1590.4,1320.5 L1591.4,1321.4 L1591.7,1321.7 M1627.7,1351.0 L1628.4,1351.6 L1629.5,1352.3 L1630.5,1353.1 L1631.5,1353.8 L1631.7,1353.9 M1667.7,1377.7 L1668.6,1378.2 L1669.6,1378.8 L1670.6,1379.4 L1671.7,1380.1 L1671.7,1380.1 M1707.7,1399.8 L1708.7,1400.3 L1709.7,1400.8 L1710.7,1401.3 L1711.7,1401.8 M1747.7,1418.4 L1747.8,1418.5 L1748.8,1418.9 L1749.8,1419.4 L1750.9,1419.8 L1751.7,1420.2 M1787.7,1434.5 L1787.9,1434.5 L1788.9,1434.9 L1790.0,1435.3 L1791.0,1435.7 L1791.7,1435.9 M1827.7,1448.4 L1828.0,1448.5 L1829.0,1448.8 L1830.1,1449.2 L1831.1,1449.5 L1831.7,1449.7 M1867.7,1460.6 L1868.1,1460.7 L1869.2,1461.0 L1870.2,1461.3 L1871.2,1461.6 L1871.7,1461.8 M1907.7,1471.5 L1908.3,1471.6 L1909.3,1471.9 L1910.3,1472.1 L1911.3,1472.4 L1911.7,1472.5 M1947.7,1481.2 L1948.4,1481.3 L1949.4,1481.6 L1950.4,1481.8 L1951.5,1482.0 L1951.7,1482.1 M1987.7,1489.9 L1988.5,1490.1 L1989.5,1490.3 L1990.5,1490.5 L1991.6,1490.7 L1991.7,1490.7 M2027.7,1497.8 L2028.6,1498.0 L2029.6,1498.2 L2030.7,1498.4 L2031.7,1498.6 M2067.7,1505.1 L2067.7,1505.1 L2068.7,1505.3 L2069.8,1505.4 L2070.8,1505.6 L2071.7,1505.8 M2107.7,1511.7 L2107.8,1511.7 L2108.8,1511.9 L2109.9,1512.0 L2110.9,1512.2 L2111.7,1512.3 M2147.7,1517.8 L2147.9,1517.8 L2149.0,1518.0 L2150.0,1518.1 L2151.0,1518.3 L2151.7,1518.4 M2187.7,1523.4 L2188.1,1523.4 L2189.1,1523.6 L2190.1,1523.7 L2191.1,1523.9 L2191.7,1523.9 M2227.7,1528.6 L2228.2,1528.7 L2229.2,1528.8 L2230.2,1528.9 L2231.3,1529.0 L2231.7,1529.1 M2267.7,1533.4 L2268.3,1533.5 L2269.3,1533.6 L2270.4,1533.8 L2271.4,1533.9 L2271.7,1533.9 M2307.7,1538.0 L2308.4,1538.0 L2309.4,1538.2 L2310.5,1538.3 L2311.5,1538.4 L2311.7,1538.4 M2347.7,1542.2 L2348.5,1542.3 L2349.6,1542.4 L2350.6,1542.5 L2351.6,1542.6 L2351.7,1542.6" stroke="#0000FF"/>
<path d="M1361.4,478.5 L1361.5,479.7 L1361.5,480.9 L1361.6,482.1 L1361.7,483.4 L1361.7,484.6 L1361.8,485.8 L1361.8,487.0 L1361.9,488.2 L1361.9,489.0 M1363.0,509.0 L1363.0,509.2 L1363.1,510.4 L1363.1,511.5 L1363.2,512.6 L1363.3,513.8 L1363.3,514.9 L1363.4,516.0 L1363.4,517.2 L1363.5,518.3 L1363.6,519.4 L1363.6,519.5 M1364.7,539.5 L1364.7,540.2 L1364.8,541.3 L1364.9,542.3 L1364.9,543.4 L1365.0,544.5 L1365.1,545.5 L1365.1,546.6 L1365.2,547.6 L1365.2,548.7 L1365.3,549.7 L1365.3,550.0 M1366.5,570.0 L1366.5,570.2 L1366.6,571.2 L1366.7,572.2 L1366.7,573.2 L1366.8,574.2 L1366.8,575.2 L1366.9,576.2 L1367.0,577.2 L1367.0,578.2 L1367.1,579.2 L1367.2,580.1 L1367.2,580.5 M1368.5,600.5 L1368.5,601.2 L1368.6,602.1 L1368.6,603.1 L1368.7,604.0 L1368.8,604.9 L1368.8,605.8 L1368.9,606.8 L1368.9,607.7 L1369.0,608.6 L1369.1,609.5 L1369.1,610.4 L1369.2,611.0 M1370.6,631.0 L1370.6,631.8 L1370.7,632.7 L1370.7,633.6 L1370.8,634.4 L1370.9,635.3 L1370.9,636.1 L1371.0,637.0 L1371.1,637.9 L1371.1,638.7 L1371.2,639.6 L1371.2,640.4 L1371.3,641.3 L1371.3,641.5 M1372.8,661.5 L1372.8,662.0 L1372.9,662.8 L1373.0,663.6 L1373.0,664.4 L1373.1,665.2 L1373.2,666.0 L1373.2,666.8 L1373.3,667.6 L1373.3,668.4 L1373.4,669.2 L1373.5,670.0 L1373.5,670.8 L1373.6,671.6 L1373.6,672.0 M1375.2,692.0 L1375.3,692.4 L1375.3,693.1 L1375.4,693.9 L1375.4,694.6 L1375.5,695.4 L1375.6,696.1 L1375.6,696.9 L1375.7,697.6 L1375.8,698.3 L1375.8,699.1 L1375.9,699.8 L1375.9,700.6 L1376.0,701.3 L1376.1,702.0 L1376.1,702.5 M1377.8,722.5 L1377.9,722.7 L1377.9,723.4 L1378.0,724.1 L1378.0,724.8 L1378.1,725.5 L1378.2,726.2 L1378.2,726.8 L1378.3,727.5 L1378.4,728.2 L1378.4,728.9 L1378.5,729.6 L1378.5,730.3 L1378.6,730.9 L1378.7,731.6 L1378.7,732.3 L1378.8,733.0 L1378.8,733.0 M1380.7,753.0 L1380.8,754.2 L1381.0,756.3 L1381.2,758.4 L1381.4,760.5 L1381.6,762.5 L1381.7,763.5 M1383.7,783.5 L1383.8,784.6 L1384.1,786.5 L1384.3,788.5 L1384.5,790.4 L1384.7,792.3 L1384.8,794.0 M1387.1,814.0 L1387.1,814.5 L1387.3,816.2 L1387.5,818.0 L1387.7,819.8 L1387.9,821.6 L1388.1,823.3 L1388.3,824.5 M1390.7,844.5 L1390.8,845.3 L1391.0,846.9 L1391.2,848.5 L1391.4,850.1 L1391.6,851.8 L1391.8,853.4 L1392.0,855.0 L1392.0,855.0 M1394.7,875.0 L1394.7,875.0 L1394.9,876.5 L1395.1,878.0 L1395.3,879.5 L1395.5,880.9 L1395.7,882.4 L1395.9,883.9 L1396.1,885.3 L1396.1,885.5 M1399.1,905.5 L1399.2,906.4 L1399.4,907.7 L1399.6,909.1 L1399.8,910.4 L1400.0,911.7 L1400.2,913.1 L1400.4,914.4 L1400.6,915.7 L1400.7,916.0 M1403.9,936.0 L1403.9,936.1 L1404.1,937.3 L1404.3,938.6 L1404.5,939.8 L1404.7,941.0 L1404.9,942.2 L1405.1,943.4 L1405.3,944.6 L1405.5,945.8 L1405.7,946.5 M1409.2,966.5 L1409.2,966.5 L1409.4,967.6 L1409.6,968.8 L1409.8,969.9 L1410.0,971.0 L1410.2,972.0 L1410.4,973.1 L1410.7,974.2 L1410.9,975.3 L1411.1,976.4 L1411.2,977.0 M1415.1,997.0 L1415.2,997.1 L1415.4,998.1 L1415.6,999.1 L1415.8,1000.1 L1416.0,1001.1 L1416.2,1002.0 L1416.4,1003.0 L1416.6,1004.0 L1416.8,1005.0 L1417.0,1005.9 L1417.2,1006.9 L1417.3,1007.5 M1421.7,1027.5 L1421.9,1028.2 L1422.1,1029.1 L1422.3,1030.0 L1422.5,1030.9 L1422.7,1031.7 L1422.9,1032.6 L1423.1,1033.5 L1423.3,1034.4 L1423.5,1035.2 L1423.7,1036.1 L1423.9,1037.0 L1424.2,1037.8 L1424.2,1038.0 M1429.2,1058.0 L1429.3,1058.5 L1429.5,1059.2 L1429.7,1060.0 L1429.9,1060.8 L1430.1,1061.6 L1430.3,1062.4 L1430.5,1063.2 L1430.7,1063.9 L1430.9,1064.7 L1431.1,1065.5 L1431.3,1066.3 L1431.5,1067.0 L1431.7,1067.8 L1431.9,1068.5 M1437.5,1088.5 L1437.7,1089.0 L1437.9,1089.7 L1438.1,1090.4 L1438.3,1091.1 L1438.5,1091.8 L1438.7,1092.5 L1438.9,1093.2 L1439.1,1093.9 L1439.3,1094.6 L1439.5,1095.2 L1439.7,1095.9 L1439.9,1096.6 L1440.1,1097.3 L1440.3,1097.9 L1440.5,1098.6 L1440.6,1099.0 M1447.0,1119.0 L1447.1,1119.2 L1447.3,1119.9 L1447.5,1120.5 L1447.7,1121.1 L1447.9,1121.7 L1448.1,1122.3 L1448.3,1122.9 L1448.5,1123.5 L1448.7,1124.1 L1448.9,1124.7 L1449.1,1125.3 L1449.3,1125.9 L1449.5,1126.5 L1449.7,1127.1 L1449.9,1127.7 L1450.1,1128.3 L1450.3,1128.9 L1450.5,1129.5 L1450.6,1129.5 M1457.8,1149.5 L1457.9,1149.8 L1458.1,1150.3 L1458.3,1150.8 L1458.5,1151.4 L1458.7,1151.9 L1458.9,1152.4 L1459.1,1153.0 L1459.3,1153.5 L1459.5,1154.0 L1459.8,1154.5 L1460.0,1155.1 L1460.2,1155.6 L1460.4,1156.1 L1460.6,1156.6 L1460.8,1157.2 L1461.0,1157.7 L1461.2,1158.2 L1461.4,1158.7 L1461.6,1159.2 L1461.8,1159.7 L1461.9,1160.0 M1470.3,1180.0 L1471.1,1181.8 L1472.1,1184.1 L1473.1,1186.4 L1474.1,1188.6 L1475.0,1190.5 M1484.7,1210.5 L1485.5,1211.9 L1486.5,1213.9 L1487.5,1215.9 L1488.5,1217.8 L1489.6,1219.8 L1490.2,1221.0 M1501.6,1241.0 L1501.9,1241.5 L1502.9,1243.2 L1504.0,1244.8 L1505.0,1246.5 L1506.0,1248.2 L1507.1,1249.8 L1508.1,1251.4 L1508.1,1251.5 M1521.6,1271.5 L1522.5,1272.7 L1523.5,1274.1 L1524.6,1275.5 L1525.6,1276.9 L1526.6,1278.3 L1527.6,1279.7 L1528.7,1281.0 L1529.4,1282.0 M1545.6,1302.0 L1546.2,1302.6 L1547.2,1303.8 L1548.2,1305.0 L1549.2,1306.2 L1550.3,1307.3 L1551.3,1308.5 L1552.3,1309.6 L1553.4,1310.7 L1554.4,1311.9 L1555.0,1312.5 M1574.5,1332.3 L1575.0,1332.7 L1576.0,1333.7 L1577.0,1334.7 L1578.0,1335.6 L1579.1,1336.6 L1580.1,1337.5 L1581.1,1338.5 L1582.2,1339.4 L1583.2,1340.3 L1584.2,1341.3 L1585.0,1341.9 M1605.0,1358.7 L1605.8,1359.3 L1606.8,1360.1 L1607.9,1360.9 L1608.9,1361.7 L1609.9,1362.5 L1611.0,1363.3 L1612.0,1364.1 L1613.0,1364.8 L1614.0,1365.6 L1615.1,1366.4 L1615.5,1366.7 M1635.5,1380.7 L1635.6,1380.8 L1636.7,1381.5 L1637.7,1382.2 L1638.7,1382.9 L1639.8,1383.5 L1640.8,1384.2 L1641.8,1384.9 L1642.8,1385.5 L1643.9,1386.2 L1644.9,1386.8 L1645.9,1387.5 L1646.0,1387.5 M1666.0,1399.5 L1666.5,1399.8 L1667.5,1400.4 L1668.6,1401.0 L1669.6,1401.5 L1670.6,1402.1 L1671.7,1402.7 L1672.7,1403.3 L1673.7,1403.8 L1674.7,1404.4 L1675.8,1405.0 L1676.5,1405.3 M1696.5,1415.7 L1697.4,1416.2 L1698.4,1416.7 L1699.4,1417.2 L1700.5,1417.7 L1701.5,1418.2 L1702.5,1418.7 L1703.5,1419.2 L1704.6,1419.7 L1705.6,1420.2 L1706.6,1420.6 L1707.0,1420.8 M1727.0,1429.9 L1727.2,1430.0 L1728.2,1430.4 L1729.3,1430.9 L1730.3,1431.3 L1731.3,1431.8 L1732.3,1432.2 L1733.4,1432.7 L1734.4,1433.1 L1735.4,1433.5 L1736.5,1434.0 L1737.5,1434.4 M1757.5,1442.4 L1758.1,1442.6 L1759.1,1443.0 L1760.1,1443.4 L1761.1,1443.8 L1762.2,1444.2 L1763.2,1444.6 L1764.2,1445.0 L1765.3,1445.4 L1766.3,1445.8 L1767.3,1446.2 L1768.0,1446.4 M1788.0,1453.6 L1788.9,1453.9 L1790.0,1454.3 L1791.0,1454.6 L1792.0,1455.0 L1793.0,1455.3 L1794.1,1455.7 L1795.1,1456.0 L1796.1,1456.4 L1797.2,1456.7 L1798.2,1457.0 L1798.5,1457.1 M1818.5,1463.6 L1818.8,1463.7 L1819.8,1464.0 L1820.8,1464.3 L1821.8,1464.6 L1822.9,1464.9 L1823.9,1465.3 L1824.9,1465.6 L1826.0,1465.9 L1827.0,1466.2 L1828.0,1466.5 L1829.0,1466.8 M1849.0,1472.6 L1849.6,1472.8 L1850.6,1473.1 L1851.7,1473.4 L1852.7,1473.7 L1853.7,1474.0 L1854.8,1474.2 L1855.8,1474.5 L1856.8,1474.8 L1857.8,1475.1 L1858.9,1475.4 L1859.5,1475.5 M1879.5,1480.8 L1880.5,1481.1 L1881.5,1481.4 L1882.5,1481.6 L1883.6,1481.9 L1884.6,1482.2 L1885.6,1482.4 L1886.6,1482.7 L1887.7,1482.9 L1888.7,1483.2 L1889.7,1483.4 L1890.0,1483.5 M1910.0,1488.4 L1910.3,1488.4 L1911.3,1488.7 L1912.4,1488.9 L1913.4,1489.2 L1914.4,1489.4 L1915.5,1489.6 L1916.5,1489.9 L1917.5,1490.1 L1918.5,1490.3 L1919.6,1490.6 L1920.5,1490.8 M1940.5,1495.3 L1941.2,1495.4 L1942.2,1495.6 L1943.2,1495.8 L1944.3,1496.1 L1945.3,1496.3 L1946.3,1496.5 L1947.3,1496.7 L1948.4,1496.9 L1949.4,1497.2 L1950.4,1497.4 L1951.0,1497.5 M1971.0,1501.6 L1971.0,1501.6 L1972.0,1501.8 L1973.1,1502.0 L1974.1,1502.2 L1975.1,1502.4 L1976.1,1502.6 L1977.2,1502.8 L1978.2,1503.0 L1979.2,1503.2 L1980.3,1503.4 L1981.3,1503.6 L1981.5,1503.7 M2001.5,1507.5 L2001.9,1507.6 L2002.9,1507.7 L2003.9,1507.9 L2004.9,1508.1 L2006.0,1508.3 L2007.0,1508.5 L2008.0,1508.7 L2009.1,1508.9 L2010.1,1509.1 L2011.1,1509.2 L2012.0,1509.4 M2032.0,1512.9 L2032.7,1513.1 L2033.8,1513.2 L2034.8,1513.4 L2035.8,1513.6 L2036.8,1513.8 L2037.9,1513.9 L2038.9,1514.1 L2039.9,1514.3 L2041.0,1514.5 L2042.0,1514.6 L2042.5,1514.7 M2062.5,1518.0 L2062.6,1518.0 L2063.6,1518.2 L2064.6,1518.4 L2065.6,1518.5 L2066.7,1518.7 L2067.7,1518.9 L2068.7,1519.0 L2069.8,1519.2 L2070.8,1519.3 L2071.8,1519.5 L2072.8,1519.7 L2073.0,1519.7 M2093.0,1522.8 L2093.4,1522.8 L2094.4,1523.0 L2095.5,1523.1 L2096.5,1523.3 L2097.5,1523.5 L2098.6,1523.6 L2099.6,1523.8 L2100.6,1523.9 L2101.6,1524.1 L2102.7,1524.2 L2103.5,1524.3 M2123.5,1527.2 L2124.3,1527.3 L2125.3,1527.5 L2126.3,1527.6 L2127.4,1527.8 L2128.4,1527.9 L2129.4,1528.1 L2130.4,1528.2 L2131.5,1528.3 L2132.5,1528.5 L2133.5,1528.6 L2134.0,1528.7 M2154.0,1531.4 L2154.1,1531.4 L2155.1,1531.6 L2156.2,1531.7 L2157.2,1531.8 L2158.2,1532.0 L2159.3,1532.1 L2160.3,1532.2 L2161.3,1532.4 L2162.3,1532.5 L2163.4,1532.6 L2164.4,1532.8 L2164.5,1532.8 M2184.5,1535.3 L2185.0,1535.4 L2186.0,1535.5 L2187.0,1535.6 L2188.1,1535.8 L2189.1,1535.9 L2190.1,1536.0 L2191.1,1536.2 L2192.2,1536.3 L2193.2,1536.4 L2194.2,1536.5 L2195.0,1536.6 M2215.0,1539.0 L2215.8,1539.1 L2216.9,1539.3 L2217.9,1539.4 L2218.9,1539.5 L2219.9,1539.6 L2221.0,1539.7 L2222.0,1539.9 L2223.0,1540.0 L2224.1,1540.1 L2225.1,1540.2 L2225.5,1540.3 M2245.5,1542.5 L2245.7,1542.6 L2246.7,1542.7 L2247.7,1542.8 L2248.7,1542.9 L2249.8,1543.0 L2250.8,1543.1 L2251.8,1543.3 L2252.9,1543.4 L2253.9,1543.5 L2254.9,1543.6 L2255.9,1543.7 L2256.0,1543.7 M2276.0,1545.9 L2276.5,1545.9 L2277.6,1546.0 L2278.6,1546.1 L2279.6,1546.2 L2280.6,1546.4 L2281.7,1546.5 L2282.7,1546.6 L2283.7,1546.7 L2284.8,1546.8 L2285.8,1546.9 L2286.5,1547.0 M2306.5,1549.0 L2307.4,1549.1 L2308.4,1549.2 L2309.4,1549.3 L2310.5,1549.4 L2311.5,1549.5 L2312.5,1549.6 L2313.6,1549.7 L2314.6,1549.8 L2315.6,1549.9 L2316.6,1550.0 L2317.0,1550.1 M2337.0,1552.0 L2337.2,1552.0 L2338.2,1552.1 L2339.3,1552.2 L2340.3,1552.3 L2341.3,1552.4 L2342.4,1552.5 L2343.4,1552.6 L2344.4,1552.7 L2345.4,1552.8 L2346.5,1552.9 L2347.5,1553.0 M2367.5,1554.9 L2368.1,1554.9 L2369.1,1555.0 L2370.1,1555.1 L2371.2,1555.2 L2372.2,1555.3 L2373.2,1555.4 L2374.2,1555.5 L2375.3,1555.6 L2376.3,1555.7 L2377.3,1555.7 L2378.0,1555.8" stroke="#008080"/>
<path d="M1361.4,478.5 L1361.4,479.1 M1362.2,493.1 L1362.2,493.7 M1362.9,507.7 L1362.9,507.9 L1363.0,508.3 M1363.7,522.3 L1363.8,522.5 L1363.8,522.9 M1364.6,536.9 L1364.6,537.5 M1365.4,551.5 L1365.4,551.7 L1365.4,552.1 M1366.3,566.1 L1366.3,566.2 L1366.3,566.7 M1367.2,580.7 L1367.2,581.3 L1367.2,581.3 M1368.1,595.3 L1368.1,595.9 M1369.1,609.9 L1369.1,610.1 L1369.1,610.5 M1370.0,624.5 L1370.1,624.8 L1370.1,625.1 M1371.1,639.1 L1371.1,639.1 L1371.1,639.7 M1372.1,653.7 L1372.1,653.8 L1372.1,654.3 M1373.2,668.3 L1373.2,668.9 L1373.2,668.9 M1374.3,682.9 L1374.3,683.5 L1374.3,683.5 M1375.4,697.5 L1375.4,697.6 L1375.5,698.1 M1376.6,712.1 L1376.7,712.7 M1377.9,726.7 L1377.9,726.7 L1377.9,727.3 M1379.1,741.3 L1379.2,741.6 L1379.2,741.9 M1380.4,755.9 L1380.5,756.5 M1381.8,770.5 L1381.9,771.1 M1383.2,785.1 L1383.2,785.2 L1383.3,785.7 M1384.7,799.7 L1384.7,800.3 M1386.2,814.3 L1386.3,814.9 M1387.8,828.9 L1387.9,829.5 M1389.4,843.5 L1389.5,844.1 M1391.1,858.1 L1391.2,858.7 M1392.9,872.7 L1393.0,873.3 M1394.8,887.3 L1394.8,887.9 M1396.7,901.9 L1396.7,902.3 L1396.8,902.5 M1398.7,916.5 L1398.8,917.1 M1400.8,931.1 L1400.8,931.4 L1400.9,931.7 M1403.0,945.7 L1403.1,946.3 M1405.3,960.3 L1405.3,960.7 L1405.4,960.9 M1407.7,974.9 L1407.8,975.5 M1410.2,989.5 L1410.2,990.0 L1410.3,990.1 M1412.8,1004.1 L1412.9,1004.7 M1415.5,1018.7 L1415.6,1018.8 L1415.7,1019.3 M1418.4,1033.3 L1418.6,1033.9 M1421.5,1047.9 L1421.5,1047.9 L1421.6,1048.5 M1424.7,1062.5 L1424.8,1062.8 L1424.8,1063.1 M1428.1,1077.1 L1428.2,1077.7 M1431.7,1091.7 L1431.7,1091.9 L1431.8,1092.3 M1435.4,1106.3 L1435.6,1106.9 M1439.4,1120.9 L1439.5,1121.1 L1439.6,1121.5 M1443.7,1135.5 L1443.8,1135.9 L1443.9,1136.1 M1448.2,1150.1 L1448.3,1150.4 L1448.4,1150.7 M1453.0,1164.7 L1453.0,1164.8 L1453.2,1165.3 M1458.1,1179.3 L1458.1,1179.4 L1458.3,1179.9 M1463.5,1193.9 L1463.8,1194.5 M1469.4,1208.5 L1469.6,1209.1 M1475.6,1223.1 L1475.9,1223.7 M1482.4,1237.7 L1482.4,1237.7 L1482.7,1238.3 M1489.6,1252.3 L1489.9,1252.9 M1497.4,1266.9 L1497.8,1267.5 M1505.9,1281.5 L1506.0,1281.7 L1506.3,1282.1 M1515.1,1296.1 L1515.3,1296.3 L1515.5,1296.7 M1525.2,1310.7 L1525.6,1311.3 L1525.6,1311.3 M1536.2,1325.3 L1536.6,1325.9 M1548.2,1339.9 L1548.8,1340.5 M1561.5,1354.5 L1561.6,1354.5 L1562.1,1355.1 M1576.0,1368.8 L1576.6,1369.4 M1590.6,1381.9 L1591.2,1382.4 M1605.2,1393.8 L1605.8,1394.3 L1605.8,1394.3 M1619.8,1404.7 L1620.2,1405.0 L1620.4,1405.1 M1634.4,1414.6 L1634.6,1414.8 L1635.0,1415.0 M1649.0,1423.8 L1649.0,1423.8 L1649.6,1424.2 M1663.6,1432.3 L1664.2,1432.6 M1678.2,1440.1 L1678.8,1440.4 M1692.8,1447.4 L1693.3,1447.6 L1693.4,1447.7 M1707.4,1454.2 L1707.7,1454.3 L1708.0,1454.5 M1722.0,1460.6 L1722.1,1460.6 L1722.6,1460.8 M1736.6,1466.5 L1737.2,1466.8 M1751.2,1472.1 L1751.8,1472.4 M1765.8,1477.4 L1766.3,1477.6 L1766.4,1477.6 M1780.4,1482.4 L1780.7,1482.5 L1781.0,1482.6 M1795.0,1487.1 L1795.1,1487.1 L1795.6,1487.2 M1809.6,1491.5 L1810.2,1491.7 M1824.2,1495.7 L1824.8,1495.9 M1838.8,1499.7 L1839.3,1499.8 L1839.4,1499.8 M1853.4,1503.5 L1853.7,1503.6 L1854.0,1503.6 M1868.0,1507.1 L1868.1,1507.1 L1868.6,1507.2 M1882.6,1510.5 L1883.2,1510.7 M1897.2,1513.8 L1897.8,1513.9 M1911.8,1516.9 L1912.4,1517.1 L1912.4,1517.1 M1926.4,1519.9 L1926.8,1520.0 L1927.0,1520.1 M1941.0,1522.8 L1941.2,1522.8 L1941.6,1522.9 M1955.6,1525.6 L1956.2,1525.7 M1970.2,1528.2 L1970.8,1528.3 M1984.8,1530.7 L1985.4,1530.8 L1985.4,1530.8 M1999.4,1533.2 L1999.8,1533.2 L2000.0,1533.3 M2014.0,1535.5 L2014.2,1535.6 L2014.6,1535.6 M2028.6,1537.8 L2029.2,1537.9 M2043.2,1540.0 L2043.8,1540.0 M2057.8,1542.0 L2058.4,1542.1 M2072.4,1544.1 L2072.8,1544.1 L2073.0,1544.2 M2087.0,1546.0 L2087.2,1546.1 L2087.6,1546.1 M2101.6,1547.9 L2101.6,1547.9 L2102.2,1548.0 M2116.2,1549.7 L2116.8,1549.8 M2130.8,1551.5 L2131.4,1551.6 M2145.4,1553.2 L2145.9,1553.3 L2146.0,1553.3 M2160.0,1554.9 L2160.3,1554.9 L2160.6,1554.9 M2174.6,1556.5 L2174.7,1556.5 L2175.2,1556.5 M2189.2,1558.0 L2189.8,1558.1 M2203.8,1559.5 L2204.4,1559.6 M2218.4,1561.0 L2218.9,1561.0 L2219.0,1561.0 M2233.0,1562.4 L2233.3,1562.4 L2233.6,1562.4 M2247.6,1563.8 L2247.7,1563.8 L2248.2,1563.8 M2262.2,1565.1 L2262.8,1565.2 M2276.8,1566.4 L2277.4,1566.5 M2291.4,1567.7 L2292.0,1567.7 L2292.0,1567.7 M2306.0,1568.9 L2306.4,1568.9 L2306.6,1569.0 M2320.6,1570.1 L2320.8,1570.1 L2321.2,1570.2 M2335.2,1571.3 L2335.8,1571.3 M2349.8,1572.4 L2350.4,1572.5 M2364.4,1573.5 L2365.0,1573.6 L2365.0,1573.6 M2379.0,1574.6 L2379.4,1574.6 L2379.6,1574.6" stroke="#FF00FF"/>
</g>
<path d="M1018.5,205.5H1181.5" fill="none" stroke="#000000" stroke-width="9" stroke-linecap="round"/>
<text transform="translate(1201.90,229.50) scale(1.0,1.04)" font-family="Liberation Sans, Arial, sans-serif" font-size="74" >A</text>
<path d="M1018.5,295.5 L1019.3,295.5 L1020.1,295.5 L1021.0,295.5 L1021.8,295.5 L1022.6,295.5 L1023.4,295.5 L1024.2,295.5 L1025.1,295.5 L1025.9,295.5 L1026.7,295.5 L1027.5,295.5 L1028.3,295.5 L1029.1,295.5 L1030.0,295.5 L1030.8,295.5 L1031.6,295.5 L1032.4,295.5 L1033.2,295.5 L1034.1,295.5 L1034.9,295.5 L1035.7,295.5 L1036.5,295.5 L1037.3,295.5 L1038.2,295.5 L1039.0,295.5 L1039.8,295.5 L1040.6,295.5 L1041.4,295.5 L1042.3,295.5 L1043.1,295.5 L1043.9,295.5 L1044.7,295.5 L1045.5,295.5 L1046.3,295.5 L1046.5,295.5 M1085.5,295.5 L1085.7,295.5 L1086.5,295.5 L1087.3,295.5 L1088.1,295.5 L1088.9,295.5 L1089.8,295.5 L1090.6,295.5 L1091.4,295.5 L1092.2,295.5 L1093.0,295.5 L1093.9,295.5 L1094.7,295.5 L1095.5,295.5 L1096.3,295.5 L1097.1,295.5 L1098.0,295.5 L1098.8,295.5 L1099.6,295.5 L1100.4,295.5 L1101.2,295.5 L1102.0,295.5 L1102.9,295.5 L1103.7,295.5 L1104.5,295.5 L1105.3,295.5 L1106.1,295.5 L1107.0,295.5 L1107.8,295.5 L1108.6,295.5 L1109.4,295.5 L1110.2,295.5 L1111.1,295.5 L1111.9,295.5 L1112.7,295.5 L1113.5,295.5 M1152.5,295.5 L1152.8,295.5 L1153.7,295.5 L1154.5,295.5 L1155.3,295.5 L1156.1,295.5 L1156.9,295.5 L1157.7,295.5 L1158.6,295.5 L1159.4,295.5 L1160.2,295.5 L1161.0,295.5 L1161.8,295.5 L1162.7,295.5 L1163.5,295.5 L1164.3,295.5 L1165.1,295.5 L1165.9,295.5 L1166.8,295.5 L1167.6,295.5 L1168.4,295.5 L1169.2,295.5 L1170.0,295.5 L1170.9,295.5 L1171.7,295.5 L1172.5,295.5 L1173.3,295.5 L1174.1,295.5 L1174.9,295.5 L1175.8,295.5 L1176.6,295.5 L1177.4,295.5 L1178.2,295.5 L1179.0,295.5 L1179.9,295.5 L1180.5,295.5" fill="none" stroke="#FF0000" stroke-width="9" stroke-linecap="round"/>
<text transform="translate(1201.90,319.50) scale(1.0,1.04)" font-family="Liberation Sans, Arial, sans-serif" font-size="74" >B</text>
<path d="M1018.5,385.0 L1019.3,385.0 L1020.1,385.0 L1021.0,385.0 L1021.8,385.0 L1022.5,385.0 M1058.5,385.0 L1058.6,385.0 L1059.5,385.0 L1060.3,385.0 L1061.1,385.0 L1061.9,385.0 L1062.5,385.0 M1098.5,385.0 L1098.8,385.0 L1099.6,385.0 L1100.4,385.0 L1101.2,385.0 L1102.0,385.0 L1102.5,385.0 M1138.5,385.0 L1138.9,385.0 L1139.7,385.0 L1140.5,385.0 L1141.4,385.0 L1142.2,385.0 L1142.5,385.0 M1178.5,385.0 L1179.0,385.0 L1179.9,385.0 L1180.7,385.0 L1181.5,385.0" fill="none" stroke="#0000FF" stroke-width="9" stroke-linecap="round"/>
<text transform="translate(1201.90,409.50) scale(1.0,1.04)" font-family="Liberation Sans, Arial, sans-serif" font-size="74" >C</text>
<path d="M1018.5,474.5 L1019.3,474.5 L1020.1,474.5 L1021.0,474.5 L1021.8,474.5 L1022.6,474.5 L1023.4,474.5 L1024.2,474.5 L1025.1,474.5 L1025.9,474.5 L1026.7,474.5 L1027.5,474.5 L1028.3,474.5 L1029.0,474.5 M1049.0,474.5 L1049.6,474.5 L1050.4,474.5 L1051.3,474.5 L1052.1,474.5 L1052.9,474.5 L1053.7,474.5 L1054.5,474.5 L1055.4,474.5 L1056.2,474.5 L1057.0,474.5 L1057.8,474.5 L1058.6,474.5 L1059.5,474.5 L1059.5,474.5 M1079.5,474.5 L1079.9,474.5 L1080.8,474.5 L1081.6,474.5 L1082.4,474.5 L1083.2,474.5 L1084.0,474.5 L1084.8,474.5 L1085.7,474.5 L1086.5,474.5 L1087.3,474.5 L1088.1,474.5 L1088.9,474.5 L1089.8,474.5 L1090.0,474.5 M1110.0,474.5 L1110.2,474.5 L1111.1,474.5 L1111.9,474.5 L1112.7,474.5 L1113.5,474.5 L1114.3,474.5 L1115.2,474.5 L1116.0,474.5 L1116.8,474.5 L1117.6,474.5 L1118.4,474.5 L1119.2,474.5 L1120.1,474.5 L1120.5,474.5 M1140.5,474.5 L1140.5,474.5 L1141.4,474.5 L1142.2,474.5 L1143.0,474.5 L1143.8,474.5 L1144.6,474.5 L1145.5,474.5 L1146.3,474.5 L1147.1,474.5 L1147.9,474.5 L1148.7,474.5 L1149.6,474.5 L1150.4,474.5 L1151.0,474.5 M1171.0,474.5 L1171.7,474.5 L1172.5,474.5 L1173.3,474.5 L1174.1,474.5 L1174.9,474.5 L1175.8,474.5 L1176.6,474.5 L1177.4,474.5 L1178.2,474.5 L1179.0,474.5 L1179.9,474.5 L1180.7,474.5 L1181.5,474.5" fill="none" stroke="#008080" stroke-width="9" stroke-linecap="round"/>
<text transform="translate(1201.90,499.50) scale(1.0,1.04)" font-family="Liberation Sans, Arial, sans-serif" font-size="74" >D</text>
<path d="M1018.5,564.5 L1019.1,564.5 M1033.1,564.5 L1033.2,564.5 L1033.7,564.5 M1047.7,564.5 L1048.0,564.5 L1048.3,564.5 M1062.3,564.5 L1062.7,564.5 L1062.9,564.5 M1076.9,564.5 L1077.5,564.5 L1077.5,564.5 M1091.5,564.5 L1092.1,564.5 M1106.1,564.5 L1106.1,564.5 L1106.7,564.5 M1120.7,564.5 L1120.9,564.5 L1121.3,564.5 M1135.3,564.5 L1135.6,564.5 L1135.9,564.5 M1149.9,564.5 L1150.4,564.5 L1150.5,564.5 M1164.5,564.5 L1165.1,564.5 M1179.1,564.5 L1179.7,564.5" fill="none" stroke="#FF00FF" stroke-width="9" stroke-linecap="round"/>
<text transform="translate(1201.90,589.50) scale(1.0,1.04)" font-family="Liberation Sans, Arial, sans-serif" font-size="74" >E</text>
<path d="M2043.5,205H2206.5" fill="none" stroke="#000000" stroke-width="8" stroke-linecap="round"/>
<text transform="translate(2226.70,229.00) scale(1.0,1.04)" font-family="Liberation Sans, Arial, sans-serif" font-size="74" >A</text>
<path d="M2043.5,294.5 L2044.3,294.5 L2045.1,294.5 L2046.0,294.5 L2046.8,294.5 L2047.6,294.5 L2048.4,294.5 L2049.2,294.5 L2050.1,294.5 L2050.9,294.5 L2051.7,294.5 L2052.5,294.5 L2053.3,294.5 L2054.1,294.5 L2055.0,294.5 L2055.8,294.5 L2056.6,294.5 L2057.4,294.5 L2058.2,294.5 L2059.1,294.5 L2059.9,294.5 L2060.7,294.5 L2061.5,294.5 L2062.3,294.5 L2063.2,294.5 L2064.0,294.5 L2064.8,294.5 L2065.6,294.5 L2066.4,294.5 L2067.3,294.5 L2068.1,294.5 L2068.9,294.5 L2069.7,294.5 L2070.5,294.5 L2071.3,294.5 L2071.5,294.5 M2110.5,294.5 L2110.7,294.5 L2111.5,294.5 L2112.3,294.5 L2113.1,294.5 L2113.9,294.5 L2114.8,294.5 L2115.6,294.5 L2116.4,294.5 L2117.2,294.5 L2118.0,294.5 L2118.9,294.5 L2119.7,294.5 L2120.5,294.5 L2121.3,294.5 L2122.1,294.5 L2123.0,294.5 L2123.8,294.5 L2124.6,294.5 L2125.4,294.5 L2126.2,294.5 L2127.0,294.5 L2127.9,294.5 L2128.7,294.5 L2129.5,294.5 L2130.3,294.5 L2131.1,294.5 L2132.0,294.5 L2132.8,294.5 L2133.6,294.5 L2134.4,294.5 L2135.2,294.5 L2136.1,294.5 L2136.9,294.5 L2137.7,294.5 L2138.5,294.5 M2177.5,294.5 L2177.8,294.5 L2178.7,294.5 L2179.5,294.5 L2180.3,294.5 L2181.1,294.5 L2181.9,294.5 L2182.7,294.5 L2183.6,294.5 L2184.4,294.5 L2185.2,294.5 L2186.0,294.5 L2186.8,294.5 L2187.7,294.5 L2188.5,294.5 L2189.3,294.5 L2190.1,294.5 L2190.9,294.5 L2191.8,294.5 L2192.6,294.5 L2193.4,294.5 L2194.2,294.5 L2195.0,294.5 L2195.9,294.5 L2196.7,294.5 L2197.5,294.5 L2198.3,294.5 L2199.1,294.5 L2199.9,294.5 L2200.8,294.5 L2201.6,294.5 L2202.4,294.5 L2203.2,294.5 L2204.0,294.5 L2204.9,294.5 L2205.5,294.5" fill="none" stroke="#FF0000" stroke-width="9" stroke-linecap="round"/>
<text transform="translate(2226.70,319.00) scale(1.0,1.04)" font-family="Liberation Sans, Arial, sans-serif" font-size="74" >B</text>
<path d="M2043.5,384.5 L2044.3,384.5 L2045.1,384.5 L2046.0,384.5 L2046.8,384.5 L2047.5,384.5 M2083.5,384.5 L2083.6,384.5 L2084.5,384.5 L2085.3,384.5 L2086.1,384.5 L2086.9,384.5 L2087.5,384.5 M2123.5,384.5 L2123.8,384.5 L2124.6,384.5 L2125.4,384.5 L2126.2,384.5 L2127.0,384.5 L2127.5,384.5 M2163.5,384.5 L2163.9,384.5 L2164.7,384.5 L2165.5,384.5 L2166.4,384.5 L2167.2,384.5 L2167.5,384.5 M2203.5,384.5 L2204.0,384.5 L2204.9,384.5 L2205.7,384.5 L2206.5,384.5" fill="none" stroke="#0000FF" stroke-width="9" stroke-linecap="round"/>
<text transform="translate(2226.70,409.00) scale(1.0,1.04)" font-family="Liberation Sans, Arial, sans-serif" font-size="74" >C</text>
<path d="M2043.5,473.5 L2044.3,473.5 L2045.1,473.5 L2046.0,473.5 L2046.8,473.5 L2047.6,473.5 L2048.4,473.5 L2049.2,473.5 L2050.1,473.5 L2050.9,473.5 L2051.7,473.5 L2052.5,473.5 L2053.3,473.5 L2054.0,473.5 M2074.0,473.5 L2074.6,473.5 L2075.4,473.5 L2076.3,473.5 L2077.1,473.5 L2077.9,473.5 L2078.7,473.5 L2079.5,473.5 L2080.4,473.5 L2081.2,473.5 L2082.0,473.5 L2082.8,473.5 L2083.6,473.5 L2084.5,473.5 L2084.5,473.5 M2104.5,473.5 L2104.9,473.5 L2105.8,473.5 L2106.6,473.5 L2107.4,473.5 L2108.2,473.5 L2109.0,473.5 L2109.8,473.5 L2110.7,473.5 L2111.5,473.5 L2112.3,473.5 L2113.1,473.5 L2113.9,473.5 L2114.8,473.5 L2115.0,473.5 M2135.0,473.5 L2135.2,473.5 L2136.1,473.5 L2136.9,473.5 L2137.7,473.5 L2138.5,473.5 L2139.3,473.5 L2140.2,473.5 L2141.0,473.5 L2141.8,473.5 L2142.6,473.5 L2143.4,473.5 L2144.2,473.5 L2145.1,473.5 L2145.5,473.5 M2165.5,473.5 L2165.5,473.5 L2166.4,473.5 L2167.2,473.5 L2168.0,473.5 L2168.8,473.5 L2169.6,473.5 L2170.5,473.5 L2171.3,473.5 L2172.1,473.5 L2172.9,473.5 L2173.7,473.5 L2174.6,473.5 L2175.4,473.5 L2176.0,473.5 M2196.0,473.5 L2196.7,473.5 L2197.5,473.5 L2198.3,473.5 L2199.1,473.5 L2199.9,473.5 L2200.8,473.5 L2201.6,473.5 L2202.4,473.5 L2203.2,473.5 L2204.0,473.5 L2204.9,473.5 L2205.7,473.5 L2206.5,473.5" fill="none" stroke="#008080" stroke-width="9" stroke-linecap="round"/>
<text transform="translate(2226.70,499.00) scale(1.0,1.04)" font-family="Liberation Sans, Arial, sans-serif" font-size="74" >D</text>
<path d="M2043.5,563.5 L2044.1,563.5 M2058.1,563.5 L2058.2,563.5 L2058.7,563.5 M2072.7,563.5 L2073.0,563.5 L2073.3,563.5 M2087.3,563.5 L2087.7,563.5 L2087.9,563.5 M2101.9,563.5 L2102.5,563.5 L2102.5,563.5 M2116.5,563.5 L2117.1,563.5 M2131.1,563.5 L2131.1,563.5 L2131.7,563.5 M2145.7,563.5 L2145.9,563.5 L2146.3,563.5 M2160.3,563.5 L2160.6,563.5 L2160.9,563.5 M2174.9,563.5 L2175.4,563.5 L2175.5,563.5 M2189.5,563.5 L2190.1,563.5 M2204.1,563.5 L2204.7,563.5" fill="none" stroke="#FF00FF" stroke-width="9" stroke-linecap="round"/>
<text transform="translate(2226.70,589.00) scale(1.0,1.04)" font-family="Liberation Sans, Arial, sans-serif" font-size="74" >E</text>
<text transform="translate(303.90,1674.30) scale(1.0,1.04)" font-family="Liberation Sans, Arial, sans-serif" font-size="74" text-anchor="end" >0</text>
<text transform="translate(303.90,1356.10) scale(1.0,1.04)" font-family="Liberation Sans, Arial, sans-serif" font-size="74" text-anchor="end" >1</text>
<text transform="translate(303.90,1037.90) scale(1.0,1.04)" font-family="Liberation Sans, Arial, sans-serif" font-size="74" text-anchor="end" >2</text>
<text transform="translate(303.90,719.70) scale(1.0,1.04)" font-family="Liberation Sans, Arial, sans-serif" font-size="74" text-anchor="end" >3</text>
<text transform="translate(303.90,401.50) scale(1.0,1.04)" font-family="Liberation Sans, Arial, sans-serif" font-size="74" text-anchor="end" >4</text>
<text transform="translate(303.90,83.30) scale(1.0,1.04)" font-family="Liberation Sans, Arial, sans-serif" font-size="74" text-anchor="end" >5</text>
<text transform="translate(335.50,1743.30) scale(1.0,1.04)" font-family="Liberation Sans, Arial, sans-serif" font-size="74" text-anchor="middle" >0</text>
<text transform="translate(540.30,1743.30) scale(1.0,1.04)" font-family="Liberation Sans, Arial, sans-serif" font-size="74" text-anchor="middle" >10</text>
<text transform="translate(745.10,1743.30) scale(1.0,1.04)" font-family="Liberation Sans, Arial, sans-serif" font-size="74" text-anchor="middle" >20</text>
<text transform="translate(949.90,1743.30) scale(1.0,1.04)" font-family="Liberation Sans, Arial, sans-serif" font-size="74" text-anchor="middle" >30</text>
<text transform="translate(1154.70,1743.30) scale(1.0,1.04)" font-family="Liberation Sans, Arial, sans-serif" font-size="74" text-anchor="middle" >40</text>
<text transform="translate(1359.50,1743.30) scale(1.0,1.04)" font-family="Liberation Sans, Arial, sans-serif" font-size="74" text-anchor="middle" >0</text>
<text transform="translate(1564.10,1743.30) scale(1.0,1.04)" font-family="Liberation Sans, Arial, sans-serif" font-size="74" text-anchor="middle" >10</text>
<text transform="translate(1768.70,1743.30) scale(1.0,1.04)" font-family="Liberation Sans, Arial, sans-serif" font-size="74" text-anchor="middle" >20</text>
<text transform="translate(1973.30,1743.30) scale(1.0,1.04)" font-family="Liberation Sans, Arial, sans-serif" font-size="74" text-anchor="middle" >30</text>
<text transform="translate(2177.90,1743.30) scale(1.0,1.04)" font-family="Liberation Sans, Arial, sans-serif" font-size="74" text-anchor="middle" >40</text>
<text transform="translate(2382.50,1743.30) scale(1.0,1.04)" font-family="Liberation Sans, Arial, sans-serif" font-size="74" text-anchor="middle" >50</text>
<text transform="translate(822.45,1879.00) skewX(-5) scale(0.98,1.038)" font-family="Liberation Sans, Arial, sans-serif" font-size="84" font-weight="bold" font-style="italic" >N</text>
<text transform="translate(1845.45,1879.00) skewX(-5) scale(0.98,1.038)" font-family="Liberation Sans, Arial, sans-serif" font-size="84" font-weight="bold" font-style="italic" >N</text>
<text transform="translate(450.30,234.00) scale(1.0,1.0)" font-family="Liberation Sans, Arial, sans-serif" font-size="74" >(a)</text>
<text transform="translate(1484.40,232.00) scale(1.0,1.0)" font-family="Liberation Sans, Arial, sans-serif" font-size="74" >(b)</text>
<text transform="translate(693.53,835.60) scale(0.991,1.04)" font-family="Liberation Sans, Arial, sans-serif" font-size="70" font-weight="bold" >15-ZGNR</text>
<text transform="translate(1724.51,833.60) scale(0.985,1.04)" font-family="Liberation Sans, Arial, sans-serif" font-size="70" font-weight="bold" >26-AGNR</text>
<text transform="translate(695.75,1014.50) skewX(-5.8) scale(1.0,1.04)" font-family="Liberation Sans, Arial, sans-serif" font-size="74" font-style="italic" >T</text>
<text transform="translate(758.40,1010.70) scale(1.0,0.9)" font-family="Liberation Sans, Arial, sans-serif" font-size="74" >=</text>
<text transform="translate(820.00,1014.50) scale(1.0,1.04)" font-family="Liberation Sans, Arial, sans-serif" font-size="74" >300</text>
<text transform="translate(962.90,1014.50) scale(1.0,1.04)" font-family="Liberation Sans, Arial, sans-serif" font-size="74" >K</text>
<text transform="translate(1727.65,1012.80) skewX(-5.8) scale(1.0,1.04)" font-family="Liberation Sans, Arial, sans-serif" font-size="74" font-style="italic" >T</text>
<text transform="translate(1789.20,1009.00) scale(1.0,0.9)" font-family="Liberation Sans, Arial, sans-serif" font-size="74" >=</text>
<text transform="translate(1850.90,1012.80) scale(1.0,1.04)" font-family="Liberation Sans, Arial, sans-serif" font-size="74" >300</text>
<text transform="translate(1993.40,1012.80) scale(1.0,1.04)" font-family="Liberation Sans, Arial, sans-serif" font-size="74" >K</text>
<g transform="translate(130,1074) rotate(-90)"><text transform="translate(-1.83,-0.90) scale(1.08,0.88)" font-family="Liberation Sans, Arial, sans-serif" font-size="76" font-style="italic" stroke="#000" stroke-width="1.8">σ</text><text transform="translate(81.68,-0.00) scale(0.9,0.98)" font-family="Liberation Sans, Arial, sans-serif" font-size="81">(</text><text transform="translate(108.84,-0.00) scale(0.96,0.965)" font-family="Liberation Sans, Arial, sans-serif" font-size="81">n</text><text transform="translate(153.62,-0.00) scale(1.042,1.04)" font-family="Liberation Sans, Arial, sans-serif" font-size="81">W</text><text transform="translate(252.15,-0.00) scale(1.032,1.04)" font-family="Liberation Sans, Arial, sans-serif" font-size="81">K</text><text transform="translate(305.63,-44.00) scale(1.087,1.0)" font-family="Liberation Sans, Arial, sans-serif" font-size="49">-</text><text transform="translate(325.69,-45.00) scale(0.62,1.04)" font-family="Liberation Sans, Arial, sans-serif" font-size="49">1</text><text transform="translate(352.58,-0.00) scale(0.9,0.98)" font-family="Liberation Sans, Arial, sans-serif" font-size="81">)</text></g>
</svg>
</body></html>
